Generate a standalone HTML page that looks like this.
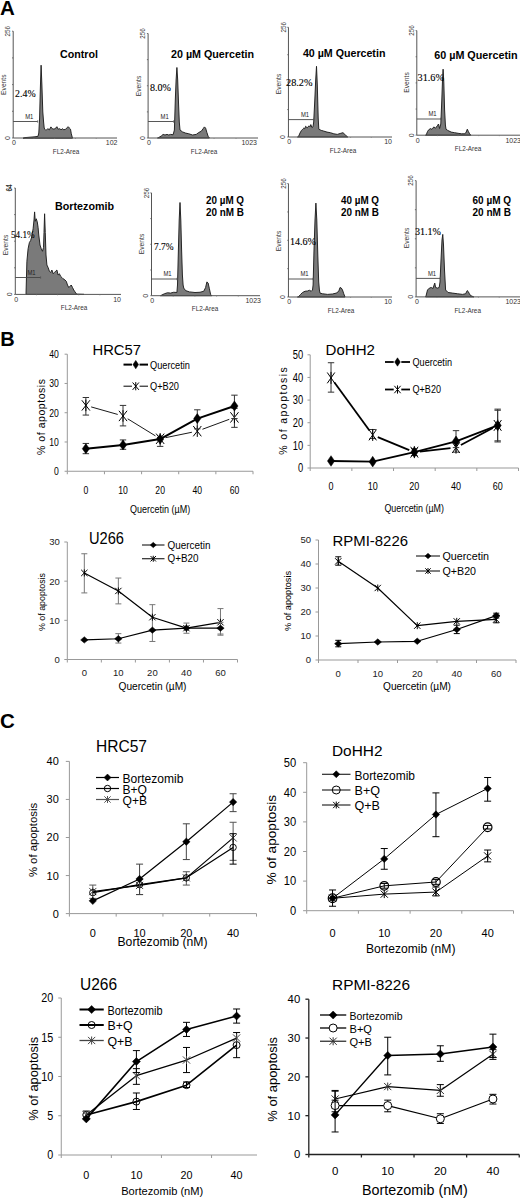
<!DOCTYPE html><html><head><meta charset="utf-8"><style>html,body{margin:0;padding:0;background:#fff;width:520px;height:1200px;overflow:hidden}svg{display:block}</style></head><body>
<svg width="520" height="1200" viewBox="0 0 520 1200">
<rect width="520" height="1200" fill="#fff"/>
<text x="0" y="14.7" font-size="20.5" text-anchor="start" font-weight="bold" fill="#000" font-family='"Liberation Sans", sans-serif' >A</text>
<text x="0.3" y="345.6" font-size="20" text-anchor="start" font-weight="bold" fill="#000" font-family='"Liberation Sans", sans-serif' >B</text>
<text x="0" y="727.6" font-size="20.5" text-anchor="start" font-weight="bold" fill="#000" font-family='"Liberation Sans", sans-serif' >C</text>
<polygon points="23,138.2 25,137.6 30,137.2 35,136.8 38,136.3 38.8,133 39.6,118 40.3,90 41.1,65.2 41.9,85 42.8,112 43.6,122 44.2,128 44.8,129.2 46,130.4 47.7,128.7 49.4,129.8 50.9,126.9 52.3,128.7 54,129.2 55.8,128.1 56.9,126.7 58.1,129.2 59.8,128.7 61,129.8 62.7,128.7 63.8,129.8 65.6,129.2 67.3,127.5 68.2,126.7 69.4,128.1 70.5,129.2 71.3,133.8 72.5,138.2" fill="#7a7a7a" stroke="#1e1e1e" stroke-width="0.95" stroke-linejoin="round"/>
<line x1="13.2" y1="31.2" x2="13.2" y2="138" stroke="#555" stroke-width="1" />
<line x1="13.2" y1="138" x2="117" y2="138" stroke="#555" stroke-width="1" />
<line x1="12.0" y1="138.0" x2="13.2" y2="138.0" stroke="#555" stroke-width="0.8" />
<line x1="12.0" y1="111.3" x2="13.2" y2="111.3" stroke="#555" stroke-width="0.8" />
<line x1="12.0" y1="84.6" x2="13.2" y2="84.6" stroke="#555" stroke-width="0.8" />
<line x1="12.0" y1="57.900000000000006" x2="13.2" y2="57.900000000000006" stroke="#555" stroke-width="0.8" />
<line x1="12.0" y1="31.200000000000003" x2="13.2" y2="31.200000000000003" stroke="#555" stroke-width="0.8" />
<line x1="33.959999999999994" y1="138" x2="33.959999999999994" y2="139.0" stroke="#777" stroke-width="0.6" />
<line x1="54.72" y1="138" x2="54.72" y2="139.0" stroke="#777" stroke-width="0.6" />
<line x1="75.47999999999999" y1="138" x2="75.47999999999999" y2="139.0" stroke="#777" stroke-width="0.6" />
<line x1="96.24" y1="138" x2="96.24" y2="139.0" stroke="#777" stroke-width="0.6" />
<text x="10.399999999999999" y="31.2" font-size="7" text-anchor="middle" font-weight="normal" fill="#333" font-family='"Liberation Sans", sans-serif' textLength="10.5" lengthAdjust="spacingAndGlyphs" transform="rotate(-90 10.399999999999999 31.2)" >256</text>
<text x="10.0" y="138" font-size="7" text-anchor="middle" font-weight="normal" fill="#333" font-family='"Liberation Sans", sans-serif' transform="rotate(-90 10.0 138)" >0</text>
<text x="5.6" y="84.7" font-size="6.7" text-anchor="middle" font-weight="normal" fill="#333" font-family='"Liberation Sans", sans-serif' textLength="20.5" lengthAdjust="spacingAndGlyphs" transform="rotate(-90 5.6 84.7)" >Events</text>
<text x="14.0" y="145.3" font-size="7" text-anchor="middle" font-weight="normal" fill="#333" font-family='"Liberation Sans", sans-serif' >0</text>
<text x="117.5" y="145.3" font-size="7" text-anchor="end" font-weight="normal" fill="#333" font-family='"Liberation Sans", sans-serif' >102</text>
<text x="66" y="153.75" font-size="7" text-anchor="middle" font-weight="normal" fill="#333" font-family='"Liberation Sans", sans-serif' textLength="26.5" lengthAdjust="spacingAndGlyphs" >FL2-Area</text>
<line x1="13.2" y1="121.5" x2="37.7" y2="121.5" stroke="#444" stroke-width="0.9" />
<line x1="37.7" y1="120.3" x2="37.7" y2="122.7" stroke="#555" stroke-width="0.8" />
<text x="29.3" y="118.9" font-size="7" text-anchor="middle" font-weight="normal" fill="#222" font-family='"Liberation Sans", sans-serif' textLength="8.2" lengthAdjust="spacingAndGlyphs" >M1</text>
<text x="60" y="58" font-size="10.5" text-anchor="start" font-weight="bold" fill="#000" font-family='"Liberation Sans", sans-serif' textLength="38" lengthAdjust="spacingAndGlyphs" >Control</text>
<text x="15.1" y="97.3" font-size="10" text-anchor="start" font-weight="normal" fill="#000" font-family='"Liberation Serif", serif' textLength="20.5" lengthAdjust="spacingAndGlyphs" stroke="#000" stroke-width="0.12">2.4%</text>
<polygon points="157.5,138 158.75,137.5 161.25,136 163.1,134.4 165,135 167,134.4 168.8,135 170.6,134.4 173.1,134.75 174.4,130 175.3,100 176.1,80 176.9,67.5 177.7,80 178.6,105 179.3,122 180,130 182.5,131.9 185.6,133.1 188.75,133.75 192.5,135 196.25,134.4 198.75,132.5 201.25,131.25 203.1,128.75 204.4,126.9 205.6,128.1 206.9,132.5 208.1,136.25 209.4,138" fill="#7a7a7a" stroke="#1e1e1e" stroke-width="0.95" stroke-linejoin="round"/>
<line x1="148.1" y1="33.5" x2="148.1" y2="138" stroke="#555" stroke-width="1" />
<line x1="148.1" y1="138" x2="258" y2="138" stroke="#555" stroke-width="1" />
<line x1="146.9" y1="138.0" x2="148.1" y2="138.0" stroke="#555" stroke-width="0.8" />
<line x1="146.9" y1="111.875" x2="148.1" y2="111.875" stroke="#555" stroke-width="0.8" />
<line x1="146.9" y1="85.75" x2="148.1" y2="85.75" stroke="#555" stroke-width="0.8" />
<line x1="146.9" y1="59.625" x2="148.1" y2="59.625" stroke="#555" stroke-width="0.8" />
<line x1="146.9" y1="33.5" x2="148.1" y2="33.5" stroke="#555" stroke-width="0.8" />
<line x1="170.07999999999998" y1="138" x2="170.07999999999998" y2="139.0" stroke="#777" stroke-width="0.6" />
<line x1="192.06" y1="138" x2="192.06" y2="139.0" stroke="#777" stroke-width="0.6" />
<line x1="214.04000000000002" y1="138" x2="214.04000000000002" y2="139.0" stroke="#777" stroke-width="0.6" />
<line x1="236.01999999999998" y1="138" x2="236.01999999999998" y2="139.0" stroke="#777" stroke-width="0.6" />
<text x="145.29999999999998" y="33.5" font-size="7" text-anchor="middle" font-weight="normal" fill="#333" font-family='"Liberation Sans", sans-serif' textLength="10.5" lengthAdjust="spacingAndGlyphs" transform="rotate(-90 145.29999999999998 33.5)" >256</text>
<text x="144.9" y="138" font-size="7" text-anchor="middle" font-weight="normal" fill="#333" font-family='"Liberation Sans", sans-serif' transform="rotate(-90 144.9 138)" >0</text>
<text x="140.5" y="86" font-size="6.7" text-anchor="middle" font-weight="normal" fill="#333" font-family='"Liberation Sans", sans-serif' textLength="20.5" lengthAdjust="spacingAndGlyphs" transform="rotate(-90 140.5 86)" >Events</text>
<text x="148.9" y="145.3" font-size="7" text-anchor="middle" font-weight="normal" fill="#333" font-family='"Liberation Sans", sans-serif' >0</text>
<text x="257" y="145.3" font-size="7" text-anchor="end" font-weight="normal" fill="#333" font-family='"Liberation Sans", sans-serif' >1023</text>
<text x="204" y="153.75" font-size="7" text-anchor="middle" font-weight="normal" fill="#333" font-family='"Liberation Sans", sans-serif' textLength="26.5" lengthAdjust="spacingAndGlyphs" >FL2-Area</text>
<line x1="148.1" y1="121.5" x2="173.6" y2="121.5" stroke="#444" stroke-width="0.9" />
<line x1="173.6" y1="120.3" x2="173.6" y2="122.7" stroke="#555" stroke-width="0.8" />
<text x="164.7" y="118.9" font-size="7" text-anchor="middle" font-weight="normal" fill="#222" font-family='"Liberation Sans", sans-serif' textLength="8.2" lengthAdjust="spacingAndGlyphs" >M1</text>
<text x="171" y="57.5" font-size="10.5" text-anchor="start" font-weight="bold" fill="#000" font-family='"Liberation Sans", sans-serif' textLength="83" lengthAdjust="spacingAndGlyphs" >20 µM Quercetin</text>
<text x="150" y="91" font-size="10" text-anchor="start" font-weight="normal" fill="#000" font-family='"Liberation Serif", serif' textLength="21" lengthAdjust="spacingAndGlyphs" stroke="#000" stroke-width="0.12">8.0%</text>
<polygon points="297.5,137 298.7,136.2 300,133 301.5,130.4 302.7,129.2 303.8,128.1 304.7,128.8 305.6,126.3 307.2,127.8 309,125.8 310,126.8 310.8,124.6 311.9,127.5 313,126.8 313.7,122 314.8,100 315.7,80 316.5,66.3 317.3,85 318.2,118 318.8,129.2 321.2,130.4 323.5,131 327,132.1 330.4,132.7 333.8,133.8 337.3,134.4 340.8,133.3 343,132.7 345.4,135 347.7,137" fill="#7a7a7a" stroke="#1e1e1e" stroke-width="0.95" stroke-linejoin="round"/>
<line x1="288.45" y1="27.3" x2="288.45" y2="137" stroke="#555" stroke-width="1" />
<line x1="288.45" y1="137" x2="392" y2="137" stroke="#555" stroke-width="1" />
<line x1="287.25" y1="137.0" x2="288.45" y2="137.0" stroke="#555" stroke-width="0.8" />
<line x1="287.25" y1="109.575" x2="288.45" y2="109.575" stroke="#555" stroke-width="0.8" />
<line x1="287.25" y1="82.15" x2="288.45" y2="82.15" stroke="#555" stroke-width="0.8" />
<line x1="287.25" y1="54.724999999999994" x2="288.45" y2="54.724999999999994" stroke="#555" stroke-width="0.8" />
<line x1="287.25" y1="27.299999999999997" x2="288.45" y2="27.299999999999997" stroke="#555" stroke-width="0.8" />
<line x1="309.15999999999997" y1="137" x2="309.15999999999997" y2="138.0" stroke="#777" stroke-width="0.6" />
<line x1="329.87" y1="137" x2="329.87" y2="138.0" stroke="#777" stroke-width="0.6" />
<line x1="350.58" y1="137" x2="350.58" y2="138.0" stroke="#777" stroke-width="0.6" />
<line x1="371.28999999999996" y1="137" x2="371.28999999999996" y2="138.0" stroke="#777" stroke-width="0.6" />
<text x="285.65" y="27.3" font-size="7" text-anchor="middle" font-weight="normal" fill="#333" font-family='"Liberation Sans", sans-serif' textLength="10.5" lengthAdjust="spacingAndGlyphs" transform="rotate(-90 285.65 27.3)" >256</text>
<text x="285.25" y="137" font-size="7" text-anchor="middle" font-weight="normal" fill="#333" font-family='"Liberation Sans", sans-serif' transform="rotate(-90 285.25 137)" >0</text>
<text x="280.84999999999997" y="84" font-size="6.7" text-anchor="middle" font-weight="normal" fill="#333" font-family='"Liberation Sans", sans-serif' textLength="20.5" lengthAdjust="spacingAndGlyphs" transform="rotate(-90 280.84999999999997 84)" >Events</text>
<text x="289.25" y="144.3" font-size="7" text-anchor="middle" font-weight="normal" fill="#333" font-family='"Liberation Sans", sans-serif' >0</text>
<text x="392" y="144.3" font-size="7" text-anchor="end" font-weight="normal" fill="#333" font-family='"Liberation Sans", sans-serif' >10</text>
<text x="343" y="152.75" font-size="7" text-anchor="middle" font-weight="normal" fill="#333" font-family='"Liberation Sans", sans-serif' textLength="26.5" lengthAdjust="spacingAndGlyphs" >FL2-Area</text>
<line x1="288.45" y1="119.6" x2="313.8" y2="119.6" stroke="#444" stroke-width="0.9" />
<line x1="313.8" y1="118.39999999999999" x2="313.8" y2="120.8" stroke="#555" stroke-width="0.8" />
<text x="305" y="117.0" font-size="7" text-anchor="middle" font-weight="normal" fill="#222" font-family='"Liberation Sans", sans-serif' textLength="8.2" lengthAdjust="spacingAndGlyphs" >M1</text>
<text x="302.9" y="56.5" font-size="10.5" text-anchor="start" font-weight="bold" fill="#000" font-family='"Liberation Sans", sans-serif' textLength="82.5" lengthAdjust="spacingAndGlyphs" >40 µM Quercetin</text>
<text x="286" y="86" font-size="10" text-anchor="start" font-weight="normal" fill="#000" font-family='"Liberation Serif", serif' textLength="26.5" lengthAdjust="spacingAndGlyphs" stroke="#000" stroke-width="0.12">28.2%</text>
<polygon points="425.5,135.2 426.3,134.8 427.5,131.5 428.7,129.8 430.4,128.6 432,129.4 433.8,126.9 435.5,128.2 437.3,125.8 438.5,124 439.6,128.5 440.8,124 441.8,100 442.5,80 443.1,69.2 443.8,82 444.6,110 445.4,125 446,129.2 447.7,130.4 451.2,132.1 454.6,132.7 458.1,133.3 461.5,133.8 464.8,133.8 466.2,132.1 467.3,129.2 468.4,131.5 469.6,133.8 470.8,135.2" fill="#7a7a7a" stroke="#1e1e1e" stroke-width="0.95" stroke-linejoin="round"/>
<line x1="416.8" y1="30.6" x2="416.8" y2="135.2" stroke="#555" stroke-width="1" />
<line x1="416.8" y1="135.2" x2="520" y2="135.2" stroke="#555" stroke-width="1" />
<line x1="415.6" y1="135.2" x2="416.8" y2="135.2" stroke="#555" stroke-width="0.8" />
<line x1="415.6" y1="109.04999999999998" x2="416.8" y2="109.04999999999998" stroke="#555" stroke-width="0.8" />
<line x1="415.6" y1="82.89999999999999" x2="416.8" y2="82.89999999999999" stroke="#555" stroke-width="0.8" />
<line x1="415.6" y1="56.75" x2="416.8" y2="56.75" stroke="#555" stroke-width="0.8" />
<line x1="415.6" y1="30.599999999999994" x2="416.8" y2="30.599999999999994" stroke="#555" stroke-width="0.8" />
<line x1="437.44" y1="135.2" x2="437.44" y2="136.2" stroke="#777" stroke-width="0.6" />
<line x1="458.08" y1="135.2" x2="458.08" y2="136.2" stroke="#777" stroke-width="0.6" />
<line x1="478.72" y1="135.2" x2="478.72" y2="136.2" stroke="#777" stroke-width="0.6" />
<line x1="499.36" y1="135.2" x2="499.36" y2="136.2" stroke="#777" stroke-width="0.6" />
<text x="414.0" y="30.6" font-size="7" text-anchor="middle" font-weight="normal" fill="#333" font-family='"Liberation Sans", sans-serif' textLength="10.5" lengthAdjust="spacingAndGlyphs" transform="rotate(-90 414.0 30.6)" >256</text>
<text x="413.6" y="135.2" font-size="7" text-anchor="middle" font-weight="normal" fill="#333" font-family='"Liberation Sans", sans-serif' transform="rotate(-90 413.6 135.2)" >0</text>
<text x="409.2" y="82.5" font-size="6.7" text-anchor="middle" font-weight="normal" fill="#333" font-family='"Liberation Sans", sans-serif' textLength="20.5" lengthAdjust="spacingAndGlyphs" transform="rotate(-90 409.2 82.5)" >Events</text>
<text x="417.6" y="142.5" font-size="7" text-anchor="middle" font-weight="normal" fill="#333" font-family='"Liberation Sans", sans-serif' >0</text>
<text x="521" y="142.5" font-size="7" text-anchor="end" font-weight="normal" fill="#333" font-family='"Liberation Sans", sans-serif' >1023</text>
<text x="468" y="150.95" font-size="7" text-anchor="middle" font-weight="normal" fill="#333" font-family='"Liberation Sans", sans-serif' textLength="26.5" lengthAdjust="spacingAndGlyphs" >FL2-Area</text>
<line x1="416.8" y1="119" x2="440.6" y2="119" stroke="#444" stroke-width="0.9" />
<line x1="440.6" y1="117.8" x2="440.6" y2="120.2" stroke="#555" stroke-width="0.8" />
<text x="432.5" y="116.4" font-size="7" text-anchor="middle" font-weight="normal" fill="#222" font-family='"Liberation Sans", sans-serif' textLength="8.2" lengthAdjust="spacingAndGlyphs" >M1</text>
<text x="434.2" y="59.4" font-size="10.5" text-anchor="start" font-weight="bold" fill="#000" font-family='"Liberation Sans", sans-serif' textLength="83.5" lengthAdjust="spacingAndGlyphs" >60 µM Quercetin</text>
<text x="417.5" y="81" font-size="10" text-anchor="start" font-weight="normal" fill="#000" font-family='"Liberation Serif", serif' textLength="26.5" lengthAdjust="spacingAndGlyphs" stroke="#000" stroke-width="0.12">31.6%</text>
<polygon points="26,294.4 26.9,261.25 28.1,248.75 29.4,242.5 30.6,240.6 31.9,236.25 33.1,228.75 34,220 34.6,211.9 35.25,221.25 36.25,218.75 37.25,221.9 38.1,227.5 38.75,235 39.4,240 40,245 41.25,248.75 42.5,251.25 43.5,247.5 44,232.5 44.6,213.75 45.25,232.5 46,255 46.9,265 48.1,267.5 49.4,271.25 50.6,272.5 51.9,270 53.1,273.75 54.4,272.5 55.6,271.25 56.9,270 58.1,275 59.4,273.75 60.6,276.25 61.9,277.5 63.1,278.75 65,280 66.25,281.25 67.5,285 68.75,287.5 70,286.25 71.25,285 72.5,287.5 73.75,290 75,291.9 76.25,293.75 77.5,294.2 84,294.4" fill="#7a7a7a" stroke="#1e1e1e" stroke-width="0.95" stroke-linejoin="round"/>
<line x1="15.3" y1="188" x2="15.3" y2="294.4" stroke="#555" stroke-width="1" />
<line x1="15.3" y1="294.4" x2="121" y2="294.4" stroke="#555" stroke-width="1" />
<line x1="14.100000000000001" y1="294.4" x2="15.3" y2="294.4" stroke="#555" stroke-width="0.8" />
<line x1="14.100000000000001" y1="267.79999999999995" x2="15.3" y2="267.79999999999995" stroke="#555" stroke-width="0.8" />
<line x1="14.100000000000001" y1="241.2" x2="15.3" y2="241.2" stroke="#555" stroke-width="0.8" />
<line x1="14.100000000000001" y1="214.6" x2="15.3" y2="214.6" stroke="#555" stroke-width="0.8" />
<line x1="14.100000000000001" y1="188.0" x2="15.3" y2="188.0" stroke="#555" stroke-width="0.8" />
<line x1="36.44" y1="294.4" x2="36.44" y2="295.4" stroke="#777" stroke-width="0.6" />
<line x1="57.58" y1="294.4" x2="57.58" y2="295.4" stroke="#777" stroke-width="0.6" />
<line x1="78.72" y1="294.4" x2="78.72" y2="295.4" stroke="#777" stroke-width="0.6" />
<line x1="99.86" y1="294.4" x2="99.86" y2="295.4" stroke="#777" stroke-width="0.6" />
<text x="12.2" y="188" font-size="8.5" text-anchor="middle" font-weight="bold" fill="#333" font-family='"Liberation Sans", sans-serif' textLength="7.2" lengthAdjust="spacingAndGlyphs" transform="rotate(-90 12.2 188)" >64</text>
<text x="12.100000000000001" y="294.4" font-size="7" text-anchor="middle" font-weight="normal" fill="#333" font-family='"Liberation Sans", sans-serif' transform="rotate(-90 12.100000000000001 294.4)" >0</text>
<text x="7.700000000000001" y="245" font-size="6.7" text-anchor="middle" font-weight="normal" fill="#333" font-family='"Liberation Sans", sans-serif' textLength="20.5" lengthAdjust="spacingAndGlyphs" transform="rotate(-90 7.700000000000001 245)" >Events</text>
<text x="16.1" y="301.7" font-size="7" text-anchor="middle" font-weight="normal" fill="#333" font-family='"Liberation Sans", sans-serif' >0</text>
<text x="121" y="301.7" font-size="7" text-anchor="end" font-weight="normal" fill="#333" font-family='"Liberation Sans", sans-serif' >10</text>
<text x="74" y="310.15" font-size="7" text-anchor="middle" font-weight="normal" fill="#333" font-family='"Liberation Sans", sans-serif' textLength="26.5" lengthAdjust="spacingAndGlyphs" >FL2-Area</text>
<line x1="15.3" y1="277.5" x2="40.6" y2="277.5" stroke="#444" stroke-width="0.9" />
<line x1="40.6" y1="276.3" x2="40.6" y2="278.7" stroke="#555" stroke-width="0.8" />
<text x="31.5" y="274.9" font-size="7" text-anchor="middle" font-weight="normal" fill="#222" font-family='"Liberation Sans", sans-serif' textLength="8.2" lengthAdjust="spacingAndGlyphs" >M1</text>
<text x="55" y="210" font-size="10.5" text-anchor="start" font-weight="bold" fill="#000" font-family='"Liberation Sans", sans-serif' textLength="59" lengthAdjust="spacingAndGlyphs" >Bortezomib</text>
<text x="11" y="237.7" font-size="10" text-anchor="start" font-weight="normal" fill="#000" font-family='"Liberation Serif", serif' textLength="23.6" lengthAdjust="spacingAndGlyphs" stroke="#000" stroke-width="0.12">54.1%</text>
<polygon points="160.5,295.7 161.9,295 164.4,293.75 167.5,292.75 170.6,293.1 173.75,292.25 176.9,292.5 177.5,285 178.4,250 179.2,220 180,202.5 180.8,220 181.6,250 182.4,275 183.1,285 183.75,288.1 185.6,290.6 189.4,291.9 195,292.5 200,292.25 203.75,291.25 205.6,287.5 206.9,281.9 208.1,283 209.4,288.75 210.6,294.4 211.9,295.7" fill="#7a7a7a" stroke="#1e1e1e" stroke-width="0.95" stroke-linejoin="round"/>
<line x1="151.5" y1="192.9" x2="151.5" y2="295.7" stroke="#555" stroke-width="1" />
<line x1="151.5" y1="295.7" x2="260" y2="295.7" stroke="#555" stroke-width="1" />
<line x1="150.3" y1="295.7" x2="151.5" y2="295.7" stroke="#555" stroke-width="0.8" />
<line x1="150.3" y1="270.0" x2="151.5" y2="270.0" stroke="#555" stroke-width="0.8" />
<line x1="150.3" y1="244.3" x2="151.5" y2="244.3" stroke="#555" stroke-width="0.8" />
<line x1="150.3" y1="218.6" x2="151.5" y2="218.6" stroke="#555" stroke-width="0.8" />
<line x1="150.3" y1="192.9" x2="151.5" y2="192.9" stroke="#555" stroke-width="0.8" />
<line x1="173.2" y1="295.7" x2="173.2" y2="296.7" stroke="#777" stroke-width="0.6" />
<line x1="194.9" y1="295.7" x2="194.9" y2="296.7" stroke="#777" stroke-width="0.6" />
<line x1="216.6" y1="295.7" x2="216.6" y2="296.7" stroke="#777" stroke-width="0.6" />
<line x1="238.3" y1="295.7" x2="238.3" y2="296.7" stroke="#777" stroke-width="0.6" />
<text x="148.7" y="192.9" font-size="7" text-anchor="middle" font-weight="normal" fill="#333" font-family='"Liberation Sans", sans-serif' textLength="10.5" lengthAdjust="spacingAndGlyphs" transform="rotate(-90 148.7 192.9)" >256</text>
<text x="148.3" y="295.7" font-size="7" text-anchor="middle" font-weight="normal" fill="#333" font-family='"Liberation Sans", sans-serif' transform="rotate(-90 148.3 295.7)" >0</text>
<text x="143.9" y="244" font-size="6.7" text-anchor="middle" font-weight="normal" fill="#333" font-family='"Liberation Sans", sans-serif' textLength="20.5" lengthAdjust="spacingAndGlyphs" transform="rotate(-90 143.9 244)" >Events</text>
<text x="152.3" y="303.0" font-size="7" text-anchor="middle" font-weight="normal" fill="#333" font-family='"Liberation Sans", sans-serif' >0</text>
<text x="261" y="303.0" font-size="7" text-anchor="end" font-weight="normal" fill="#333" font-family='"Liberation Sans", sans-serif' >1023</text>
<text x="205" y="311.45" font-size="7" text-anchor="middle" font-weight="normal" fill="#333" font-family='"Liberation Sans", sans-serif' textLength="26.5" lengthAdjust="spacingAndGlyphs" >FL2-Area</text>
<line x1="151.5" y1="279" x2="177" y2="279" stroke="#444" stroke-width="0.9" />
<line x1="177" y1="277.8" x2="177" y2="280.2" stroke="#555" stroke-width="0.8" />
<text x="167.5" y="276.4" font-size="7" text-anchor="middle" font-weight="normal" fill="#222" font-family='"Liberation Sans", sans-serif' textLength="8.2" lengthAdjust="spacingAndGlyphs" >M1</text>
<text x="206" y="204" font-size="10.5" text-anchor="start" font-weight="bold" fill="#000" font-family='"Liberation Sans", sans-serif' textLength="38" lengthAdjust="spacingAndGlyphs" >20 µM Q</text>
<text x="206" y="216" font-size="10.5" text-anchor="start" font-weight="bold" fill="#000" font-family='"Liberation Sans", sans-serif' textLength="38" lengthAdjust="spacingAndGlyphs" >20 nM B</text>
<text x="154" y="250" font-size="10" text-anchor="start" font-weight="normal" fill="#000" font-family='"Liberation Serif", serif' textLength="19.5" lengthAdjust="spacingAndGlyphs" stroke="#000" stroke-width="0.12">7.7%</text>
<polygon points="297.5,297 298.75,296.5 300.6,294.4 302.5,292.5 305,291.25 307.5,291 309.4,290.25 311.25,291.25 312.5,290 313.1,285 314,250 315,220 315.9,203.1 316.8,220 317.8,255 318.7,282 319.4,290 320,293.1 322.5,293.75 327.5,294.4 332.5,294 336.25,293.1 338.75,291.25 340,287.5 341.25,288 342.5,290 343.75,293.75 345,297" fill="#7a7a7a" stroke="#1e1e1e" stroke-width="0.95" stroke-linejoin="round"/>
<line x1="288.45" y1="183.6" x2="288.45" y2="297" stroke="#555" stroke-width="1" />
<line x1="288.45" y1="297" x2="392" y2="297" stroke="#555" stroke-width="1" />
<line x1="287.25" y1="297.0" x2="288.45" y2="297.0" stroke="#555" stroke-width="0.8" />
<line x1="287.25" y1="268.65" x2="288.45" y2="268.65" stroke="#555" stroke-width="0.8" />
<line x1="287.25" y1="240.3" x2="288.45" y2="240.3" stroke="#555" stroke-width="0.8" />
<line x1="287.25" y1="211.95" x2="288.45" y2="211.95" stroke="#555" stroke-width="0.8" />
<line x1="287.25" y1="183.6" x2="288.45" y2="183.6" stroke="#555" stroke-width="0.8" />
<line x1="309.15999999999997" y1="297" x2="309.15999999999997" y2="298.0" stroke="#777" stroke-width="0.6" />
<line x1="329.87" y1="297" x2="329.87" y2="298.0" stroke="#777" stroke-width="0.6" />
<line x1="350.58" y1="297" x2="350.58" y2="298.0" stroke="#777" stroke-width="0.6" />
<line x1="371.28999999999996" y1="297" x2="371.28999999999996" y2="298.0" stroke="#777" stroke-width="0.6" />
<text x="285.65" y="183.6" font-size="7" text-anchor="middle" font-weight="normal" fill="#333" font-family='"Liberation Sans", sans-serif' textLength="10.5" lengthAdjust="spacingAndGlyphs" transform="rotate(-90 285.65 183.6)" >256</text>
<text x="285.25" y="297" font-size="7" text-anchor="middle" font-weight="normal" fill="#333" font-family='"Liberation Sans", sans-serif' transform="rotate(-90 285.25 297)" >0</text>
<text x="280.84999999999997" y="241" font-size="6.7" text-anchor="middle" font-weight="normal" fill="#333" font-family='"Liberation Sans", sans-serif' textLength="20.5" lengthAdjust="spacingAndGlyphs" transform="rotate(-90 280.84999999999997 241)" >Events</text>
<text x="289.25" y="304.3" font-size="7" text-anchor="middle" font-weight="normal" fill="#333" font-family='"Liberation Sans", sans-serif' >0</text>
<text x="392" y="304.3" font-size="7" text-anchor="end" font-weight="normal" fill="#333" font-family='"Liberation Sans", sans-serif' >10</text>
<text x="341" y="312.75" font-size="7" text-anchor="middle" font-weight="normal" fill="#333" font-family='"Liberation Sans", sans-serif' textLength="26.5" lengthAdjust="spacingAndGlyphs" >FL2-Area</text>
<line x1="288.45" y1="279" x2="313" y2="279" stroke="#444" stroke-width="0.9" />
<line x1="313" y1="277.8" x2="313" y2="280.2" stroke="#555" stroke-width="0.8" />
<text x="304.5" y="276.4" font-size="7" text-anchor="middle" font-weight="normal" fill="#222" font-family='"Liberation Sans", sans-serif' textLength="8.2" lengthAdjust="spacingAndGlyphs" >M1</text>
<text x="341" y="204" font-size="10.5" text-anchor="start" font-weight="bold" fill="#000" font-family='"Liberation Sans", sans-serif' textLength="38" lengthAdjust="spacingAndGlyphs" >40 µM Q</text>
<text x="341" y="216" font-size="10.5" text-anchor="start" font-weight="bold" fill="#000" font-family='"Liberation Sans", sans-serif' textLength="38" lengthAdjust="spacingAndGlyphs" >20 nM B</text>
<text x="290" y="245" font-size="10" text-anchor="start" font-weight="normal" fill="#000" font-family='"Liberation Serif", serif' textLength="26" lengthAdjust="spacingAndGlyphs" stroke="#000" stroke-width="0.12">14.6%</text>
<polygon points="425.5,296.9 426,296 427.5,290 429.4,288.1 431.25,287.5 433,288.5 434.1,285 434.75,283.1 435.6,287.5 437.5,288.1 439.2,287.5 440,282 441,260 442,240 442.75,234.4 443.5,245 444.5,270 445.6,290 448.1,292.5 452.5,293.1 457.5,293.75 462.5,294.4 465.6,293.75 467.25,290.6 468.2,291.5 469.4,293.75 470.6,295.6 473.75,296.9" fill="#7a7a7a" stroke="#1e1e1e" stroke-width="0.95" stroke-linejoin="round"/>
<line x1="416.1" y1="180.6" x2="416.1" y2="296.9" stroke="#555" stroke-width="1" />
<line x1="416.1" y1="296.9" x2="520" y2="296.9" stroke="#555" stroke-width="1" />
<line x1="414.90000000000003" y1="296.9" x2="416.1" y2="296.9" stroke="#555" stroke-width="0.8" />
<line x1="414.90000000000003" y1="267.825" x2="416.1" y2="267.825" stroke="#555" stroke-width="0.8" />
<line x1="414.90000000000003" y1="238.75" x2="416.1" y2="238.75" stroke="#555" stroke-width="0.8" />
<line x1="414.90000000000003" y1="209.67499999999998" x2="416.1" y2="209.67499999999998" stroke="#555" stroke-width="0.8" />
<line x1="414.90000000000003" y1="180.6" x2="416.1" y2="180.6" stroke="#555" stroke-width="0.8" />
<line x1="436.88" y1="296.9" x2="436.88" y2="297.9" stroke="#777" stroke-width="0.6" />
<line x1="457.66" y1="296.9" x2="457.66" y2="297.9" stroke="#777" stroke-width="0.6" />
<line x1="478.44" y1="296.9" x2="478.44" y2="297.9" stroke="#777" stroke-width="0.6" />
<line x1="499.22" y1="296.9" x2="499.22" y2="297.9" stroke="#777" stroke-width="0.6" />
<text x="413.3" y="180.6" font-size="7" text-anchor="middle" font-weight="normal" fill="#333" font-family='"Liberation Sans", sans-serif' textLength="10.5" lengthAdjust="spacingAndGlyphs" transform="rotate(-90 413.3 180.6)" >256</text>
<text x="412.90000000000003" y="296.9" font-size="7" text-anchor="middle" font-weight="normal" fill="#333" font-family='"Liberation Sans", sans-serif' transform="rotate(-90 412.90000000000003 296.9)" >0</text>
<text x="408.5" y="238" font-size="6.7" text-anchor="middle" font-weight="normal" fill="#333" font-family='"Liberation Sans", sans-serif' textLength="20.5" lengthAdjust="spacingAndGlyphs" transform="rotate(-90 408.5 238)" >Events</text>
<text x="416.90000000000003" y="304.2" font-size="7" text-anchor="middle" font-weight="normal" fill="#333" font-family='"Liberation Sans", sans-serif' >0</text>
<text x="521" y="304.2" font-size="7" text-anchor="end" font-weight="normal" fill="#333" font-family='"Liberation Sans", sans-serif' >1023</text>
<text x="467.7" y="312.65" font-size="7" text-anchor="middle" font-weight="normal" fill="#333" font-family='"Liberation Sans", sans-serif' textLength="26.5" lengthAdjust="spacingAndGlyphs" >FL2-Area</text>
<line x1="416.1" y1="278.4" x2="440.3" y2="278.4" stroke="#444" stroke-width="0.9" />
<line x1="440.3" y1="277.2" x2="440.3" y2="279.59999999999997" stroke="#555" stroke-width="0.8" />
<text x="432" y="275.79999999999995" font-size="7" text-anchor="middle" font-weight="normal" fill="#222" font-family='"Liberation Sans", sans-serif' textLength="8.2" lengthAdjust="spacingAndGlyphs" >M1</text>
<text x="472.5" y="204" font-size="10.5" text-anchor="start" font-weight="bold" fill="#000" font-family='"Liberation Sans", sans-serif' textLength="38.5" lengthAdjust="spacingAndGlyphs" >60 µM Q</text>
<text x="472.5" y="216" font-size="10.5" text-anchor="start" font-weight="bold" fill="#000" font-family='"Liberation Sans", sans-serif' textLength="38.5" lengthAdjust="spacingAndGlyphs" >20 nM B</text>
<text x="415" y="235" font-size="10" text-anchor="start" font-weight="normal" fill="#000" font-family='"Liberation Serif", serif' textLength="26" lengthAdjust="spacingAndGlyphs" stroke="#000" stroke-width="0.12">31.1%</text>
<line x1="67.3" y1="354.2" x2="67.3" y2="471.25" stroke="#999" stroke-width="1" />
<line x1="67.3" y1="471.25" x2="253" y2="471.25" stroke="#999" stroke-width="1" />
<line x1="64.6" y1="471.25" x2="67.3" y2="471.25" stroke="#999" stroke-width="1" />
<text x="58.8" y="475.21" font-size="11" text-anchor="end" font-weight="normal" fill="#000" font-family='"Liberation Sans", sans-serif' textLength="4.8" lengthAdjust="spacingAndGlyphs" >0</text>
<line x1="64.6" y1="441.9875" x2="67.3" y2="441.9875" stroke="#999" stroke-width="1" />
<text x="58.8" y="445.9475" font-size="11" text-anchor="end" font-weight="normal" fill="#000" font-family='"Liberation Sans", sans-serif' textLength="9.6" lengthAdjust="spacingAndGlyphs" >10</text>
<line x1="64.6" y1="412.725" x2="67.3" y2="412.725" stroke="#999" stroke-width="1" />
<text x="58.8" y="416.685" font-size="11" text-anchor="end" font-weight="normal" fill="#000" font-family='"Liberation Sans", sans-serif' textLength="9.6" lengthAdjust="spacingAndGlyphs" >20</text>
<line x1="64.6" y1="383.4625" x2="67.3" y2="383.4625" stroke="#999" stroke-width="1" />
<text x="58.8" y="387.42249999999996" font-size="11" text-anchor="end" font-weight="normal" fill="#000" font-family='"Liberation Sans", sans-serif' textLength="9.6" lengthAdjust="spacingAndGlyphs" >30</text>
<line x1="64.6" y1="354.2" x2="67.3" y2="354.2" stroke="#999" stroke-width="1" />
<text x="58.8" y="358.15999999999997" font-size="11" text-anchor="end" font-weight="normal" fill="#000" font-family='"Liberation Sans", sans-serif' textLength="9.6" lengthAdjust="spacingAndGlyphs" >40</text>
<line x1="67.3" y1="471.25" x2="67.3" y2="474.25" stroke="#999" stroke-width="1" />
<line x1="104.44" y1="471.25" x2="104.44" y2="474.25" stroke="#999" stroke-width="1" />
<line x1="141.57999999999998" y1="471.25" x2="141.57999999999998" y2="474.25" stroke="#999" stroke-width="1" />
<line x1="178.72" y1="471.25" x2="178.72" y2="474.25" stroke="#999" stroke-width="1" />
<line x1="215.86" y1="471.25" x2="215.86" y2="474.25" stroke="#999" stroke-width="1" />
<line x1="253.0" y1="471.25" x2="253.0" y2="474.25" stroke="#999" stroke-width="1" />
<text x="85.87" y="493.5" font-size="11" text-anchor="middle" font-weight="normal" fill="#000" font-family='"Liberation Sans", sans-serif' textLength="4.8" lengthAdjust="spacingAndGlyphs" >0</text>
<text x="123.00999999999999" y="493.5" font-size="11" text-anchor="middle" font-weight="normal" fill="#000" font-family='"Liberation Sans", sans-serif' textLength="9.6" lengthAdjust="spacingAndGlyphs" >10</text>
<text x="160.14999999999998" y="493.5" font-size="11" text-anchor="middle" font-weight="normal" fill="#000" font-family='"Liberation Sans", sans-serif' textLength="9.6" lengthAdjust="spacingAndGlyphs" >20</text>
<text x="197.29000000000002" y="493.5" font-size="11" text-anchor="middle" font-weight="normal" fill="#000" font-family='"Liberation Sans", sans-serif' textLength="9.6" lengthAdjust="spacingAndGlyphs" >40</text>
<text x="234.43" y="493.5" font-size="11" text-anchor="middle" font-weight="normal" fill="#000" font-family='"Liberation Sans", sans-serif' textLength="9.6" lengthAdjust="spacingAndGlyphs" >60</text>
<text x="160.1" y="512.8" font-size="11.2" text-anchor="middle" font-weight="normal" fill="#000" font-family='"Liberation Sans", sans-serif' textLength="60.2" lengthAdjust="spacingAndGlyphs" >Quercetin (µM)</text>
<text x="44.5" y="417" font-size="10.5" text-anchor="middle" font-family='"Liberation Sans", sans-serif' textLength="76" lengthAdjust="spacing" transform="rotate(-90 44.5 417)">% of apoptosis</text>
<text x="92.5" y="355" font-size="15" text-anchor="start" font-weight="normal" fill="#000" font-family='"Liberation Sans", sans-serif' textLength="48.5" lengthAdjust="spacingAndGlyphs" >HRC57</text>
<line x1="85.87" y1="397.5085" x2="85.87" y2="415.066" stroke="#333" stroke-width="1" />
<line x1="82.67" y1="397.5085" x2="89.07000000000001" y2="397.5085" stroke="#333" stroke-width="1" />
<line x1="82.67" y1="415.066" x2="89.07000000000001" y2="415.066" stroke="#333" stroke-width="1" />
<line x1="123.00999999999999" y1="405.40937499999995" x2="123.00999999999999" y2="425.893125" stroke="#333" stroke-width="1" />
<line x1="119.80999999999999" y1="405.40937499999995" x2="126.21" y2="405.40937499999995" stroke="#333" stroke-width="1" />
<line x1="119.80999999999999" y1="425.893125" x2="126.21" y2="425.893125" stroke="#333" stroke-width="1" />
<line x1="160.14999999999998" y1="437.598125" x2="160.14999999999998" y2="446.376875" stroke="#333" stroke-width="1" />
<line x1="156.95" y1="437.598125" x2="163.34999999999997" y2="437.598125" stroke="#333" stroke-width="1" />
<line x1="156.95" y1="446.376875" x2="163.34999999999997" y2="446.376875" stroke="#333" stroke-width="1" />
<line x1="234.43" y1="408.335625" x2="234.43" y2="427.35625" stroke="#333" stroke-width="1" />
<line x1="231.23000000000002" y1="408.335625" x2="237.63" y2="408.335625" stroke="#333" stroke-width="1" />
<line x1="231.23000000000002" y1="427.35625" x2="237.63" y2="427.35625" stroke="#333" stroke-width="1" />
<line x1="91.16126706503076" y1="406.910205718809" x2="117.71873293496924" y2="414.44304428119096" stroke="#000" stroke-width="0.9" stroke-linecap="butt"/>
<line x1="127.69584508876791" y1="418.8236068979498" x2="155.46415491123204" y2="435.8888931020502" stroke="#000" stroke-width="0.9" stroke-linecap="butt"/>
<line x1="165.53810628157765" y1="437.6648538740761" x2="191.90189371842234" y2="432.2641461259239" stroke="#000" stroke-width="0.9" stroke-linecap="butt"/>
<line x1="202.44771680323387" y1="429.25041233606146" x2="229.27228319676615" y2="419.3169626639385" stroke="#000" stroke-width="0.9" stroke-linecap="butt"/>
<line x1="81.82000000000001" y1="400.23437499999994" x2="89.92" y2="410.58437499999997" stroke="#000" stroke-width="1" />
<line x1="81.82000000000001" y1="410.58437499999997" x2="89.92" y2="400.23437499999994" stroke="#000" stroke-width="1" />
<line x1="85.87" y1="399.65937499999995" x2="85.87" y2="411.15937499999995" stroke="#000" stroke-width="1" />
<line x1="118.96" y1="410.768875" x2="127.05999999999999" y2="421.118875" stroke="#000" stroke-width="1" />
<line x1="118.96" y1="421.118875" x2="127.05999999999999" y2="410.768875" stroke="#000" stroke-width="1" />
<line x1="123.00999999999999" y1="410.193875" x2="123.00999999999999" y2="421.693875" stroke="#000" stroke-width="1" />
<line x1="156.09999999999997" y1="433.593625" x2="164.2" y2="443.943625" stroke="#000" stroke-width="1" />
<line x1="156.09999999999997" y1="443.943625" x2="164.2" y2="433.593625" stroke="#000" stroke-width="1" />
<line x1="160.14999999999998" y1="433.018625" x2="160.14999999999998" y2="444.518625" stroke="#000" stroke-width="1" />
<line x1="193.24" y1="425.985375" x2="201.34000000000003" y2="436.335375" stroke="#000" stroke-width="1" />
<line x1="193.24" y1="436.335375" x2="201.34000000000003" y2="425.985375" stroke="#000" stroke-width="1" />
<line x1="197.29000000000002" y1="425.410375" x2="197.29000000000002" y2="436.910375" stroke="#000" stroke-width="1" />
<line x1="230.38" y1="412.23199999999997" x2="238.48000000000002" y2="422.582" stroke="#000" stroke-width="1" />
<line x1="230.38" y1="422.582" x2="238.48000000000002" y2="412.23199999999997" stroke="#000" stroke-width="1" />
<line x1="234.43" y1="411.657" x2="234.43" y2="423.157" stroke="#000" stroke-width="1" />
<line x1="85.87" y1="443.450625" x2="85.87" y2="453.6925" stroke="#333" stroke-width="1" />
<line x1="82.67" y1="443.450625" x2="89.07000000000001" y2="443.450625" stroke="#333" stroke-width="1" />
<line x1="82.67" y1="453.6925" x2="89.07000000000001" y2="453.6925" stroke="#333" stroke-width="1" />
<line x1="123.00999999999999" y1="439.939125" x2="123.00999999999999" y2="449.303125" stroke="#333" stroke-width="1" />
<line x1="119.80999999999999" y1="439.939125" x2="126.21" y2="439.939125" stroke="#333" stroke-width="1" />
<line x1="119.80999999999999" y1="449.303125" x2="126.21" y2="449.303125" stroke="#333" stroke-width="1" />
<line x1="197.29000000000002" y1="409.79875" x2="197.29000000000002" y2="428.819375" stroke="#333" stroke-width="1" />
<line x1="194.09000000000003" y1="409.79875" x2="200.49" y2="409.79875" stroke="#333" stroke-width="1" />
<line x1="194.09000000000003" y1="428.819375" x2="200.49" y2="428.819375" stroke="#333" stroke-width="1" />
<line x1="234.43" y1="395.1675" x2="234.43" y2="418.5775" stroke="#333" stroke-width="1" />
<line x1="231.23000000000002" y1="395.1675" x2="237.63" y2="395.1675" stroke="#333" stroke-width="1" />
<line x1="231.23000000000002" y1="418.5775" x2="237.63" y2="418.5775" stroke="#333" stroke-width="1" />
<polyline points="85.87,448.717875 123.00999999999999,444.91375 160.14999999999998,439.06125 197.29000000000002,418.5775 234.43,405.994625" stroke="#000" stroke-width="2" fill="none" stroke-linejoin="round" />
<polygon points="85.87,443.717875 89.47,448.717875 85.87,453.717875 82.27000000000001,448.717875" fill="#000" stroke="#000" stroke-width="0.5"/>
<polygon points="123.00999999999999,439.91375 126.60999999999999,444.91375 123.00999999999999,449.91375 119.41,444.91375" fill="#000" stroke="#000" stroke-width="0.5"/>
<polygon points="160.14999999999998,434.06125 163.74999999999997,439.06125 160.14999999999998,444.06125 156.54999999999998,439.06125" fill="#000" stroke="#000" stroke-width="0.5"/>
<polygon points="197.29000000000002,413.5775 200.89000000000001,418.5775 197.29000000000002,423.5775 193.69000000000003,418.5775" fill="#000" stroke="#000" stroke-width="0.5"/>
<polygon points="234.43,400.994625 238.03,405.994625 234.43,410.994625 230.83,405.994625" fill="#000" stroke="#000" stroke-width="0.5"/>
<line x1="123.5" y1="364.6" x2="131.95" y2="364.6" stroke="#000" stroke-width="2" />
<line x1="139.55" y1="364.6" x2="148" y2="364.6" stroke="#000" stroke-width="2" />
<polygon points="135.75,360.40000000000003 138.55,364.6 135.75,368.8 132.95,364.6" fill="#000" stroke="#000" stroke-width="0.5"/>
<text x="150" y="368.56" font-size="11" text-anchor="start" font-weight="normal" fill="#000" font-family='"Liberation Sans", sans-serif' textLength="40" lengthAdjust="spacingAndGlyphs" >Quercetin</text>
<line x1="123.5" y1="386.2" x2="131.95" y2="386.2" stroke="#000" stroke-width="1" />
<line x1="139.55" y1="386.2" x2="148" y2="386.2" stroke="#000" stroke-width="1" />
<line x1="132.6" y1="382.51" x2="138.9" y2="389.89" stroke="#000" stroke-width="1" />
<line x1="132.6" y1="389.89" x2="138.9" y2="382.51" stroke="#000" stroke-width="1" />
<line x1="135.75" y1="382.09999999999997" x2="135.75" y2="390.3" stroke="#000" stroke-width="1" />
<text x="150" y="390.15999999999997" font-size="11" text-anchor="start" font-weight="normal" fill="#000" font-family='"Liberation Sans", sans-serif' textLength="29" lengthAdjust="spacingAndGlyphs" >Q+B20</text>
<line x1="310.2" y1="354.8" x2="310.2" y2="468" stroke="#999" stroke-width="1" />
<line x1="310.2" y1="468" x2="518.5" y2="468" stroke="#999" stroke-width="1" />
<line x1="307.5" y1="468.0" x2="310.2" y2="468.0" stroke="#999" stroke-width="1" />
<text x="303.2" y="472.32" font-size="12" text-anchor="end" font-weight="normal" fill="#000" font-family='"Liberation Sans", sans-serif' textLength="5.2" lengthAdjust="spacingAndGlyphs" >0</text>
<line x1="307.5" y1="445.36" x2="310.2" y2="445.36" stroke="#999" stroke-width="1" />
<text x="303.2" y="449.68" font-size="12" text-anchor="end" font-weight="normal" fill="#000" font-family='"Liberation Sans", sans-serif' textLength="10.4" lengthAdjust="spacingAndGlyphs" >10</text>
<line x1="307.5" y1="422.72" x2="310.2" y2="422.72" stroke="#999" stroke-width="1" />
<text x="303.2" y="427.04" font-size="12" text-anchor="end" font-weight="normal" fill="#000" font-family='"Liberation Sans", sans-serif' textLength="10.4" lengthAdjust="spacingAndGlyphs" >20</text>
<line x1="307.5" y1="400.08000000000004" x2="310.2" y2="400.08000000000004" stroke="#999" stroke-width="1" />
<text x="303.2" y="404.40000000000003" font-size="12" text-anchor="end" font-weight="normal" fill="#000" font-family='"Liberation Sans", sans-serif' textLength="10.4" lengthAdjust="spacingAndGlyphs" >30</text>
<line x1="307.5" y1="377.44" x2="310.2" y2="377.44" stroke="#999" stroke-width="1" />
<text x="303.2" y="381.76" font-size="12" text-anchor="end" font-weight="normal" fill="#000" font-family='"Liberation Sans", sans-serif' textLength="10.4" lengthAdjust="spacingAndGlyphs" >40</text>
<line x1="307.5" y1="354.8" x2="310.2" y2="354.8" stroke="#999" stroke-width="1" />
<text x="303.2" y="359.12" font-size="12" text-anchor="end" font-weight="normal" fill="#000" font-family='"Liberation Sans", sans-serif' textLength="10.4" lengthAdjust="spacingAndGlyphs" >50</text>
<line x1="310.2" y1="468" x2="310.2" y2="471" stroke="#999" stroke-width="1" />
<line x1="351.86" y1="468" x2="351.86" y2="471" stroke="#999" stroke-width="1" />
<line x1="393.52" y1="468" x2="393.52" y2="471" stroke="#999" stroke-width="1" />
<line x1="435.18" y1="468" x2="435.18" y2="471" stroke="#999" stroke-width="1" />
<line x1="476.84000000000003" y1="468" x2="476.84000000000003" y2="471" stroke="#999" stroke-width="1" />
<line x1="518.5" y1="468" x2="518.5" y2="471" stroke="#999" stroke-width="1" />
<text x="331.03" y="490" font-size="11.5" text-anchor="middle" font-weight="normal" fill="#000" font-family='"Liberation Sans", sans-serif' textLength="5.0" lengthAdjust="spacingAndGlyphs" >0</text>
<text x="372.69" y="490" font-size="11.5" text-anchor="middle" font-weight="normal" fill="#000" font-family='"Liberation Sans", sans-serif' textLength="10.0" lengthAdjust="spacingAndGlyphs" >10</text>
<text x="414.35" y="490" font-size="11.5" text-anchor="middle" font-weight="normal" fill="#000" font-family='"Liberation Sans", sans-serif' textLength="10.0" lengthAdjust="spacingAndGlyphs" >20</text>
<text x="456.01" y="490" font-size="11.5" text-anchor="middle" font-weight="normal" fill="#000" font-family='"Liberation Sans", sans-serif' textLength="10.0" lengthAdjust="spacingAndGlyphs" >40</text>
<text x="497.67" y="490" font-size="11.5" text-anchor="middle" font-weight="normal" fill="#000" font-family='"Liberation Sans", sans-serif' textLength="10.0" lengthAdjust="spacingAndGlyphs" >60</text>
<text x="414.2" y="511.5" font-size="11.5" text-anchor="middle" font-weight="normal" fill="#000" font-family='"Liberation Sans", sans-serif' textLength="59.6" lengthAdjust="spacingAndGlyphs" >Quercetin (µM)</text>
<text x="287" y="411" font-size="10.5" text-anchor="middle" font-family='"Liberation Sans", sans-serif' textLength="87.5" lengthAdjust="spacing" transform="rotate(-90 287 411)">% of apoptosis</text>
<text x="325.5" y="355" font-size="15" text-anchor="start" font-weight="normal" fill="#000" font-family='"Liberation Sans", sans-serif' textLength="49.5" lengthAdjust="spacingAndGlyphs" >DoHH2</text>
<line x1="331.03" y1="362.72400000000005" x2="331.03" y2="392.156" stroke="#333" stroke-width="1" />
<line x1="327.83" y1="362.72400000000005" x2="334.22999999999996" y2="362.72400000000005" stroke="#333" stroke-width="1" />
<line x1="327.83" y1="392.156" x2="334.22999999999996" y2="392.156" stroke="#333" stroke-width="1" />
<line x1="372.69" y1="429.512" x2="372.69" y2="438.568" stroke="#333" stroke-width="1" />
<line x1="369.49" y1="429.512" x2="375.89" y2="429.512" stroke="#333" stroke-width="1" />
<line x1="369.49" y1="438.568" x2="375.89" y2="438.568" stroke="#333" stroke-width="1" />
<line x1="414.35" y1="448.756" x2="414.35" y2="455.548" stroke="#333" stroke-width="1" />
<line x1="411.15000000000003" y1="448.756" x2="417.55" y2="448.756" stroke="#333" stroke-width="1" />
<line x1="411.15000000000003" y1="455.548" x2="417.55" y2="455.548" stroke="#333" stroke-width="1" />
<line x1="456.01" y1="443.096" x2="456.01" y2="452.152" stroke="#333" stroke-width="1" />
<line x1="452.81" y1="443.096" x2="459.21" y2="443.096" stroke="#333" stroke-width="1" />
<line x1="452.81" y1="452.152" x2="459.21" y2="452.152" stroke="#333" stroke-width="1" />
<line x1="497.67" y1="410.26800000000003" x2="497.67" y2="441.964" stroke="#333" stroke-width="1" />
<line x1="494.47" y1="410.26800000000003" x2="500.87" y2="410.26800000000003" stroke="#333" stroke-width="1" />
<line x1="494.47" y1="441.964" x2="500.87" y2="441.964" stroke="#333" stroke-width="1" />
<line x1="334.2734450842592" y1="382.33465366546386" x2="369.44655491574076" y2="430.5037463345362" stroke="#000" stroke-width="1.8" stroke-linecap="butt"/>
<line x1="377.77348052562024" y1="437.04517751598735" x2="409.2665194743798" y2="450.05242248401265" stroke="#000" stroke-width="1.8" stroke-linecap="butt"/>
<line x1="419.8177982249134" y1="451.5577083446373" x2="450.5422017750866" y2="448.2182916553627" stroke="#000" stroke-width="1.8" stroke-linecap="butt"/>
<line x1="460.8644628324965" y1="445.03861983300135" x2="492.8155371675035" y2="428.0221801669987" stroke="#000" stroke-width="1.8" stroke-linecap="butt"/>
<line x1="327.25" y1="372.49280000000005" x2="334.80999999999995" y2="383.2928" stroke="#000" stroke-width="1" />
<line x1="327.25" y1="383.2928" x2="334.80999999999995" y2="372.49280000000005" stroke="#000" stroke-width="1" />
<line x1="331.03" y1="371.8928" x2="331.03" y2="383.8928" stroke="#000" stroke-width="1" />
<line x1="368.91" y1="429.54560000000004" x2="376.46999999999997" y2="440.3456" stroke="#000" stroke-width="1" />
<line x1="368.91" y1="440.3456" x2="376.46999999999997" y2="429.54560000000004" stroke="#000" stroke-width="1" />
<line x1="372.69" y1="428.9456" x2="372.69" y2="440.9456" stroke="#000" stroke-width="1" />
<line x1="410.57000000000005" y1="446.752" x2="418.13" y2="457.55199999999996" stroke="#000" stroke-width="1" />
<line x1="410.57000000000005" y1="457.55199999999996" x2="418.13" y2="446.752" stroke="#000" stroke-width="1" />
<line x1="414.35" y1="446.152" x2="414.35" y2="458.152" stroke="#000" stroke-width="1" />
<line x1="452.23" y1="442.22400000000005" x2="459.78999999999996" y2="453.024" stroke="#000" stroke-width="1" />
<line x1="452.23" y1="453.024" x2="459.78999999999996" y2="442.22400000000005" stroke="#000" stroke-width="1" />
<line x1="456.01" y1="441.624" x2="456.01" y2="453.624" stroke="#000" stroke-width="1" />
<line x1="493.89000000000004" y1="420.0368" x2="501.45" y2="430.8368" stroke="#000" stroke-width="1" />
<line x1="493.89000000000004" y1="430.8368" x2="501.45" y2="420.0368" stroke="#000" stroke-width="1" />
<line x1="497.67" y1="419.4368" x2="497.67" y2="431.4368" stroke="#000" stroke-width="1" />
<line x1="456.01" y1="430.644" x2="456.01" y2="447.624" stroke="#333" stroke-width="1" />
<line x1="452.81" y1="430.644" x2="459.21" y2="430.644" stroke="#333" stroke-width="1" />
<line x1="452.81" y1="447.624" x2="459.21" y2="447.624" stroke="#333" stroke-width="1" />
<line x1="497.67" y1="409.136" x2="497.67" y2="440.832" stroke="#333" stroke-width="1" />
<line x1="494.47" y1="409.136" x2="500.87" y2="409.136" stroke="#333" stroke-width="1" />
<line x1="494.47" y1="440.832" x2="500.87" y2="440.832" stroke="#333" stroke-width="1" />
<polyline points="331.03,460.9816 372.69,461.6608 414.35,452.152 456.01,441.2848 497.67,425.4368" stroke="#000" stroke-width="1.8" fill="none" stroke-linejoin="round" />
<polygon points="331.03,455.6816 334.63,460.9816 331.03,466.2816 327.42999999999995,460.9816" fill="#000" stroke="#000" stroke-width="0.5"/>
<polygon points="372.69,456.3608 376.29,461.6608 372.69,466.9608 369.09,461.6608" fill="#000" stroke="#000" stroke-width="0.5"/>
<polygon points="414.35,446.852 417.95000000000005,452.152 414.35,457.452 410.75,452.152" fill="#000" stroke="#000" stroke-width="0.5"/>
<polygon points="456.01,435.9848 459.61,441.2848 456.01,446.58480000000003 452.40999999999997,441.2848" fill="#000" stroke="#000" stroke-width="0.5"/>
<polygon points="497.67,420.1368 501.27000000000004,425.4368 497.67,430.7368 494.07,425.4368" fill="#000" stroke="#000" stroke-width="0.5"/>
<line x1="385" y1="362" x2="393.7" y2="362" stroke="#000" stroke-width="1.8" />
<line x1="401.3" y1="362" x2="410" y2="362" stroke="#000" stroke-width="1.8" />
<polygon points="397.5,357.8 400.3,362 397.5,366.2 394.7,362" fill="#000" stroke="#000" stroke-width="0.5"/>
<text x="412.5" y="365.96" font-size="11" text-anchor="start" font-weight="normal" fill="#000" font-family='"Liberation Sans", sans-serif' textLength="39.5" lengthAdjust="spacingAndGlyphs" >Quercetin</text>
<line x1="385" y1="389.5" x2="393.7" y2="389.5" stroke="#000" stroke-width="1.8" />
<line x1="401.3" y1="389.5" x2="410" y2="389.5" stroke="#000" stroke-width="1.8" />
<line x1="394.35" y1="385.81" x2="400.65" y2="393.19" stroke="#000" stroke-width="1" />
<line x1="394.35" y1="393.19" x2="400.65" y2="385.81" stroke="#000" stroke-width="1" />
<line x1="397.5" y1="385.4" x2="397.5" y2="393.6" stroke="#000" stroke-width="1" />
<text x="412.5" y="393.46" font-size="11" text-anchor="start" font-weight="normal" fill="#000" font-family='"Liberation Sans", sans-serif' textLength="28.5" lengthAdjust="spacingAndGlyphs" >Q+B20</text>
<line x1="67.3" y1="542" x2="67.3" y2="659.5" stroke="#999" stroke-width="1" />
<line x1="67.3" y1="659.5" x2="237.5" y2="659.5" stroke="#999" stroke-width="1" />
<line x1="64.3" y1="659.5" x2="67.3" y2="659.5" stroke="#999" stroke-width="1" />
<text x="59.8" y="662.92" font-size="9.5" text-anchor="end" font-weight="normal" fill="#222" font-family='"Liberation Sans", sans-serif' textLength="5.3" lengthAdjust="spacingAndGlyphs" >0</text>
<line x1="64.3" y1="620.3333333333334" x2="67.3" y2="620.3333333333334" stroke="#999" stroke-width="1" />
<text x="59.8" y="623.7533333333333" font-size="9.5" text-anchor="end" font-weight="normal" fill="#222" font-family='"Liberation Sans", sans-serif' textLength="10.6" lengthAdjust="spacingAndGlyphs" >10</text>
<line x1="64.3" y1="581.1666666666666" x2="67.3" y2="581.1666666666666" stroke="#999" stroke-width="1" />
<text x="59.8" y="584.5866666666666" font-size="9.5" text-anchor="end" font-weight="normal" fill="#222" font-family='"Liberation Sans", sans-serif' textLength="10.6" lengthAdjust="spacingAndGlyphs" >20</text>
<line x1="64.3" y1="542.0" x2="67.3" y2="542.0" stroke="#999" stroke-width="1" />
<text x="59.8" y="545.42" font-size="9.5" text-anchor="end" font-weight="normal" fill="#222" font-family='"Liberation Sans", sans-serif' textLength="10.6" lengthAdjust="spacingAndGlyphs" >30</text>
<line x1="67.3" y1="659.5" x2="67.3" y2="662.5" stroke="#999" stroke-width="1" />
<line x1="101.34" y1="659.5" x2="101.34" y2="662.5" stroke="#999" stroke-width="1" />
<line x1="135.38" y1="659.5" x2="135.38" y2="662.5" stroke="#999" stroke-width="1" />
<line x1="169.42000000000002" y1="659.5" x2="169.42000000000002" y2="662.5" stroke="#999" stroke-width="1" />
<line x1="203.45999999999998" y1="659.5" x2="203.45999999999998" y2="662.5" stroke="#999" stroke-width="1" />
<line x1="237.5" y1="659.5" x2="237.5" y2="662.5" stroke="#999" stroke-width="1" />
<text x="84.32" y="676" font-size="9.5" text-anchor="middle" font-weight="normal" fill="#222" font-family='"Liberation Sans", sans-serif' textLength="5.3" lengthAdjust="spacingAndGlyphs" >0</text>
<text x="118.36" y="676" font-size="9.5" text-anchor="middle" font-weight="normal" fill="#222" font-family='"Liberation Sans", sans-serif' textLength="10.6" lengthAdjust="spacingAndGlyphs" >10</text>
<text x="152.39999999999998" y="676" font-size="9.5" text-anchor="middle" font-weight="normal" fill="#222" font-family='"Liberation Sans", sans-serif' textLength="10.6" lengthAdjust="spacingAndGlyphs" >20</text>
<text x="186.44" y="676" font-size="9.5" text-anchor="middle" font-weight="normal" fill="#222" font-family='"Liberation Sans", sans-serif' textLength="10.6" lengthAdjust="spacingAndGlyphs" >40</text>
<text x="220.48000000000002" y="676" font-size="9.5" text-anchor="middle" font-weight="normal" fill="#222" font-family='"Liberation Sans", sans-serif' textLength="10.6" lengthAdjust="spacingAndGlyphs" >60</text>
<text x="152.5" y="689.5" font-size="10" text-anchor="middle" font-weight="normal" fill="#000" font-family='"Liberation Sans", sans-serif' textLength="68" lengthAdjust="spacingAndGlyphs" >Quercetin (µM)</text>
<text x="45" y="602" font-size="8.7" text-anchor="middle" font-weight="normal" fill="#000" font-family='"Liberation Sans", sans-serif' textLength="58" lengthAdjust="spacingAndGlyphs" transform="rotate(-90 45 602)" >% of apoptosis</text>
<text x="89" y="544" font-size="16" text-anchor="start" font-weight="normal" fill="#000" font-family='"Liberation Sans", sans-serif' textLength="35" lengthAdjust="spacingAndGlyphs" >U266</text>
<line x1="84.32" y1="553.75" x2="84.32" y2="592.9166666666666" stroke="#777" stroke-width="1" />
<line x1="81.32" y1="553.75" x2="87.32" y2="553.75" stroke="#777" stroke-width="1" />
<line x1="81.32" y1="592.9166666666666" x2="87.32" y2="592.9166666666666" stroke="#777" stroke-width="1" />
<line x1="118.36" y1="578.0333333333333" x2="118.36" y2="603.8833333333333" stroke="#777" stroke-width="1" />
<line x1="115.36" y1="578.0333333333333" x2="121.36" y2="578.0333333333333" stroke="#777" stroke-width="1" />
<line x1="115.36" y1="603.8833333333333" x2="121.36" y2="603.8833333333333" stroke="#777" stroke-width="1" />
<line x1="152.39999999999998" y1="604.6666666666666" x2="152.39999999999998" y2="641.4833333333333" stroke="#777" stroke-width="1" />
<line x1="149.39999999999998" y1="604.6666666666666" x2="155.39999999999998" y2="604.6666666666666" stroke="#777" stroke-width="1" />
<line x1="149.39999999999998" y1="641.4833333333333" x2="155.39999999999998" y2="641.4833333333333" stroke="#777" stroke-width="1" />
<line x1="186.44" y1="623.075" x2="186.44" y2="633.2583333333333" stroke="#777" stroke-width="1" />
<line x1="183.44" y1="623.075" x2="189.44" y2="623.075" stroke="#777" stroke-width="1" />
<line x1="183.44" y1="633.2583333333333" x2="189.44" y2="633.2583333333333" stroke="#777" stroke-width="1" />
<line x1="220.48000000000002" y1="608.5833333333334" x2="220.48000000000002" y2="635.2166666666667" stroke="#777" stroke-width="1" />
<line x1="217.48000000000002" y1="608.5833333333334" x2="223.48000000000002" y2="608.5833333333334" stroke="#777" stroke-width="1" />
<line x1="217.48000000000002" y1="635.2166666666667" x2="223.48000000000002" y2="635.2166666666667" stroke="#777" stroke-width="1" />
<polyline points="84.32,572.9416666666666 118.36,590.9583333333334 152.39999999999998,617.2 186.44,628.1666666666666 220.48000000000002,622.2916666666666" stroke="#000" stroke-width="1.2" fill="none" stroke-linejoin="round" />
<line x1="81.16999999999999" y1="569.7916666666666" x2="87.47" y2="576.0916666666666" stroke="#000" stroke-width="1" />
<line x1="81.16999999999999" y1="576.0916666666666" x2="87.47" y2="569.7916666666666" stroke="#000" stroke-width="1" />
<line x1="84.32" y1="569.4416666666666" x2="84.32" y2="576.4416666666666" stroke="#000" stroke-width="1" />
<line x1="115.21" y1="587.8083333333334" x2="121.51" y2="594.1083333333333" stroke="#000" stroke-width="1" />
<line x1="115.21" y1="594.1083333333333" x2="121.51" y2="587.8083333333334" stroke="#000" stroke-width="1" />
<line x1="118.36" y1="587.4583333333334" x2="118.36" y2="594.4583333333334" stroke="#000" stroke-width="1" />
<line x1="149.24999999999997" y1="614.0500000000001" x2="155.54999999999998" y2="620.35" stroke="#000" stroke-width="1" />
<line x1="149.24999999999997" y1="620.35" x2="155.54999999999998" y2="614.0500000000001" stroke="#000" stroke-width="1" />
<line x1="152.39999999999998" y1="613.7" x2="152.39999999999998" y2="620.7" stroke="#000" stroke-width="1" />
<line x1="183.29" y1="625.0166666666667" x2="189.59" y2="631.3166666666666" stroke="#000" stroke-width="1" />
<line x1="183.29" y1="631.3166666666666" x2="189.59" y2="625.0166666666667" stroke="#000" stroke-width="1" />
<line x1="186.44" y1="624.6666666666666" x2="186.44" y2="631.6666666666666" stroke="#000" stroke-width="1" />
<line x1="217.33" y1="619.1416666666667" x2="223.63000000000002" y2="625.4416666666666" stroke="#000" stroke-width="1" />
<line x1="217.33" y1="625.4416666666666" x2="223.63000000000002" y2="619.1416666666667" stroke="#000" stroke-width="1" />
<line x1="220.48000000000002" y1="618.7916666666666" x2="220.48000000000002" y2="625.7916666666666" stroke="#000" stroke-width="1" />
<line x1="118.36" y1="633.65" x2="118.36" y2="643.05" stroke="#777" stroke-width="1" />
<line x1="115.36" y1="633.65" x2="121.36" y2="633.65" stroke="#777" stroke-width="1" />
<line x1="115.36" y1="643.05" x2="121.36" y2="643.05" stroke="#777" stroke-width="1" />
<line x1="220.48000000000002" y1="622.2916666666666" x2="220.48000000000002" y2="634.0416666666666" stroke="#777" stroke-width="1" />
<line x1="217.48000000000002" y1="622.2916666666666" x2="223.48000000000002" y2="622.2916666666666" stroke="#777" stroke-width="1" />
<line x1="217.48000000000002" y1="634.0416666666666" x2="223.48000000000002" y2="634.0416666666666" stroke="#777" stroke-width="1" />
<polyline points="84.32,639.9166666666666 118.36,638.7416666666667 152.39999999999998,630.125 186.44,628.1666666666666 220.48000000000002,628.1666666666666" stroke="#000" stroke-width="1.2" fill="none" stroke-linejoin="round" />
<polygon points="84.32,636.7166666666666 88.02,639.9166666666666 84.32,643.1166666666667 80.61999999999999,639.9166666666666" fill="#000" stroke="#000" stroke-width="0.5"/>
<polygon points="118.36,635.5416666666666 122.06,638.7416666666667 118.36,641.9416666666667 114.66,638.7416666666667" fill="#000" stroke="#000" stroke-width="0.5"/>
<polygon points="152.39999999999998,626.925 156.09999999999997,630.125 152.39999999999998,633.325 148.7,630.125" fill="#000" stroke="#000" stroke-width="0.5"/>
<polygon points="186.44,624.9666666666666 190.14,628.1666666666666 186.44,631.3666666666667 182.74,628.1666666666666" fill="#000" stroke="#000" stroke-width="0.5"/>
<polygon points="220.48000000000002,624.9666666666666 224.18,628.1666666666666 220.48000000000002,631.3666666666667 216.78000000000003,628.1666666666666" fill="#000" stroke="#000" stroke-width="0.5"/>
<line x1="142" y1="545" x2="164.5" y2="545" stroke="#000" stroke-width="1" />
<polygon points="153.25,542.3 156.25,545 153.25,547.7 150.25,545" fill="#000" stroke="#000" stroke-width="0.5"/>
<text x="167.5" y="548.6" font-size="10" text-anchor="start" font-weight="normal" fill="#000" font-family='"Liberation Sans", sans-serif' textLength="43" lengthAdjust="spacingAndGlyphs" >Quercetin</text>
<line x1="142" y1="558.75" x2="164.5" y2="558.75" stroke="#000" stroke-width="1" />
<line x1="150.55" y1="556.05" x2="155.95" y2="561.45" stroke="#000" stroke-width="1" />
<line x1="150.55" y1="561.45" x2="155.95" y2="556.05" stroke="#000" stroke-width="1" />
<line x1="153.25" y1="555.75" x2="153.25" y2="561.75" stroke="#000" stroke-width="1" />
<text x="167.5" y="562.35" font-size="10" text-anchor="start" font-weight="normal" fill="#000" font-family='"Liberation Sans", sans-serif' textLength="31" lengthAdjust="spacingAndGlyphs" >Q+B20</text>
<line x1="318.5" y1="540" x2="318.5" y2="660" stroke="#999" stroke-width="1" />
<line x1="318.5" y1="660" x2="516" y2="660" stroke="#999" stroke-width="1" />
<line x1="315.5" y1="660.0" x2="318.5" y2="660.0" stroke="#999" stroke-width="1" />
<text x="311.0" y="663.42" font-size="9.5" text-anchor="end" font-weight="normal" fill="#222" font-family='"Liberation Sans", sans-serif' textLength="5.3" lengthAdjust="spacingAndGlyphs" >0</text>
<line x1="315.5" y1="636.0" x2="318.5" y2="636.0" stroke="#999" stroke-width="1" />
<text x="311.0" y="639.42" font-size="9.5" text-anchor="end" font-weight="normal" fill="#222" font-family='"Liberation Sans", sans-serif' textLength="10.6" lengthAdjust="spacingAndGlyphs" >10</text>
<line x1="315.5" y1="612.0" x2="318.5" y2="612.0" stroke="#999" stroke-width="1" />
<text x="311.0" y="615.42" font-size="9.5" text-anchor="end" font-weight="normal" fill="#222" font-family='"Liberation Sans", sans-serif' textLength="10.6" lengthAdjust="spacingAndGlyphs" >20</text>
<line x1="315.5" y1="588.0" x2="318.5" y2="588.0" stroke="#999" stroke-width="1" />
<text x="311.0" y="591.42" font-size="9.5" text-anchor="end" font-weight="normal" fill="#222" font-family='"Liberation Sans", sans-serif' textLength="10.6" lengthAdjust="spacingAndGlyphs" >30</text>
<line x1="315.5" y1="564.0" x2="318.5" y2="564.0" stroke="#999" stroke-width="1" />
<text x="311.0" y="567.42" font-size="9.5" text-anchor="end" font-weight="normal" fill="#222" font-family='"Liberation Sans", sans-serif' textLength="10.6" lengthAdjust="spacingAndGlyphs" >40</text>
<line x1="315.5" y1="540.0" x2="318.5" y2="540.0" stroke="#999" stroke-width="1" />
<text x="311.0" y="543.42" font-size="9.5" text-anchor="end" font-weight="normal" fill="#222" font-family='"Liberation Sans", sans-serif' textLength="10.6" lengthAdjust="spacingAndGlyphs" >50</text>
<line x1="318.5" y1="660" x2="318.5" y2="663" stroke="#999" stroke-width="1" />
<line x1="358.0" y1="660" x2="358.0" y2="663" stroke="#999" stroke-width="1" />
<line x1="397.5" y1="660" x2="397.5" y2="663" stroke="#999" stroke-width="1" />
<line x1="437.0" y1="660" x2="437.0" y2="663" stroke="#999" stroke-width="1" />
<line x1="476.5" y1="660" x2="476.5" y2="663" stroke="#999" stroke-width="1" />
<line x1="516.0" y1="660" x2="516.0" y2="663" stroke="#999" stroke-width="1" />
<text x="338.25" y="677" font-size="9.5" text-anchor="middle" font-weight="normal" fill="#222" font-family='"Liberation Sans", sans-serif' textLength="5.3" lengthAdjust="spacingAndGlyphs" >0</text>
<text x="377.75" y="677" font-size="9.5" text-anchor="middle" font-weight="normal" fill="#222" font-family='"Liberation Sans", sans-serif' textLength="10.6" lengthAdjust="spacingAndGlyphs" >10</text>
<text x="417.25" y="677" font-size="9.5" text-anchor="middle" font-weight="normal" fill="#222" font-family='"Liberation Sans", sans-serif' textLength="10.6" lengthAdjust="spacingAndGlyphs" >20</text>
<text x="456.75" y="677" font-size="9.5" text-anchor="middle" font-weight="normal" fill="#222" font-family='"Liberation Sans", sans-serif' textLength="10.6" lengthAdjust="spacingAndGlyphs" >40</text>
<text x="496.25" y="677" font-size="9.5" text-anchor="middle" font-weight="normal" fill="#222" font-family='"Liberation Sans", sans-serif' textLength="10.6" lengthAdjust="spacingAndGlyphs" >60</text>
<text x="417" y="689.5" font-size="10" text-anchor="middle" font-weight="normal" fill="#000" font-family='"Liberation Sans", sans-serif' textLength="68" lengthAdjust="spacingAndGlyphs" >Quercetin (µM)</text>
<text x="291" y="601" font-size="8.7" text-anchor="middle" font-weight="normal" fill="#000" font-family='"Liberation Sans", sans-serif' textLength="60" lengthAdjust="spacingAndGlyphs" transform="rotate(-90 291 601)" >% of apoptosis</text>
<text x="332.5" y="546" font-size="15" text-anchor="start" font-weight="normal" fill="#000" font-family='"Liberation Sans", sans-serif' textLength="75.5" lengthAdjust="spacingAndGlyphs" >RPMI-8226</text>
<line x1="338.25" y1="556.8" x2="338.25" y2="565.2" stroke="#000" stroke-width="1" />
<line x1="335.25" y1="556.8" x2="341.25" y2="556.8" stroke="#000" stroke-width="1" />
<line x1="335.25" y1="565.2" x2="341.25" y2="565.2" stroke="#000" stroke-width="1" />
<line x1="496.25" y1="615.6" x2="496.25" y2="622.8" stroke="#000" stroke-width="1" />
<line x1="493.25" y1="615.6" x2="499.25" y2="615.6" stroke="#000" stroke-width="1" />
<line x1="493.25" y1="622.8" x2="499.25" y2="622.8" stroke="#000" stroke-width="1" />
<polyline points="338.25,561.36 377.75,588.0 417.25,625.68 456.75,621.36 496.25,619.44" stroke="#000" stroke-width="1.2" fill="none" stroke-linejoin="round" />
<line x1="335.1" y1="558.21" x2="341.4" y2="564.51" stroke="#000" stroke-width="1" />
<line x1="335.1" y1="564.51" x2="341.4" y2="558.21" stroke="#000" stroke-width="1" />
<line x1="338.25" y1="557.86" x2="338.25" y2="564.86" stroke="#000" stroke-width="1" />
<line x1="374.6" y1="584.85" x2="380.9" y2="591.15" stroke="#000" stroke-width="1" />
<line x1="374.6" y1="591.15" x2="380.9" y2="584.85" stroke="#000" stroke-width="1" />
<line x1="377.75" y1="584.5" x2="377.75" y2="591.5" stroke="#000" stroke-width="1" />
<line x1="414.1" y1="622.53" x2="420.4" y2="628.8299999999999" stroke="#000" stroke-width="1" />
<line x1="414.1" y1="628.8299999999999" x2="420.4" y2="622.53" stroke="#000" stroke-width="1" />
<line x1="417.25" y1="622.18" x2="417.25" y2="629.18" stroke="#000" stroke-width="1" />
<line x1="453.6" y1="618.21" x2="459.9" y2="624.51" stroke="#000" stroke-width="1" />
<line x1="453.6" y1="624.51" x2="459.9" y2="618.21" stroke="#000" stroke-width="1" />
<line x1="456.75" y1="617.86" x2="456.75" y2="624.86" stroke="#000" stroke-width="1" />
<line x1="493.1" y1="616.2900000000001" x2="499.4" y2="622.59" stroke="#000" stroke-width="1" />
<line x1="493.1" y1="622.59" x2="499.4" y2="616.2900000000001" stroke="#000" stroke-width="1" />
<line x1="496.25" y1="615.94" x2="496.25" y2="622.94" stroke="#000" stroke-width="1" />
<line x1="338.25" y1="640.32" x2="338.25" y2="646.8" stroke="#000" stroke-width="1" />
<line x1="335.25" y1="640.32" x2="341.25" y2="640.32" stroke="#000" stroke-width="1" />
<line x1="335.25" y1="646.8" x2="341.25" y2="646.8" stroke="#000" stroke-width="1" />
<line x1="456.75" y1="625.2" x2="456.75" y2="633.6" stroke="#000" stroke-width="1" />
<line x1="453.75" y1="625.2" x2="459.75" y2="625.2" stroke="#000" stroke-width="1" />
<line x1="453.75" y1="633.6" x2="459.75" y2="633.6" stroke="#000" stroke-width="1" />
<line x1="496.25" y1="613.2" x2="496.25" y2="618.0" stroke="#000" stroke-width="1" />
<line x1="493.25" y1="613.2" x2="499.25" y2="613.2" stroke="#000" stroke-width="1" />
<line x1="493.25" y1="618.0" x2="499.25" y2="618.0" stroke="#000" stroke-width="1" />
<polyline points="338.25,643.68 377.75,642.0 417.25,641.28 456.75,629.52 496.25,615.6" stroke="#000" stroke-width="1.2" fill="none" stroke-linejoin="round" />
<polygon points="338.25,640.4799999999999 341.95,643.68 338.25,646.88 334.55,643.68" fill="#000" stroke="#000" stroke-width="0.5"/>
<polygon points="377.75,638.8 381.45,642.0 377.75,645.2 374.05,642.0" fill="#000" stroke="#000" stroke-width="0.5"/>
<polygon points="417.25,638.0799999999999 420.95,641.28 417.25,644.48 413.55,641.28" fill="#000" stroke="#000" stroke-width="0.5"/>
<polygon points="456.75,626.3199999999999 460.45,629.52 456.75,632.72 453.05,629.52" fill="#000" stroke="#000" stroke-width="0.5"/>
<polygon points="496.25,612.4 499.95,615.6 496.25,618.8000000000001 492.55,615.6" fill="#000" stroke="#000" stroke-width="0.5"/>
<line x1="416" y1="556" x2="440" y2="556" stroke="#000" stroke-width="1" />
<polygon points="428.0,553.3 431.0,556 428.0,558.7 425.0,556" fill="#000" stroke="#000" stroke-width="0.5"/>
<text x="442.5" y="559.96" font-size="11" text-anchor="start" font-weight="normal" fill="#000" font-family='"Liberation Sans", sans-serif' textLength="46.5" lengthAdjust="spacingAndGlyphs" >Quercetin</text>
<line x1="416" y1="571" x2="440" y2="571" stroke="#000" stroke-width="1" />
<line x1="425.3" y1="568.3" x2="430.7" y2="573.7" stroke="#000" stroke-width="1" />
<line x1="425.3" y1="573.7" x2="430.7" y2="568.3" stroke="#000" stroke-width="1" />
<line x1="428.0" y1="568" x2="428.0" y2="574" stroke="#000" stroke-width="1" />
<text x="442.5" y="574.96" font-size="11" text-anchor="start" font-weight="normal" fill="#000" font-family='"Liberation Sans", sans-serif' textLength="33.5" lengthAdjust="spacingAndGlyphs" >Q+B20</text>
<line x1="69.4" y1="761.4" x2="69.4" y2="913.6" stroke="#999" stroke-width="1" />
<line x1="69.4" y1="913.6" x2="256.5" y2="913.6" stroke="#999" stroke-width="1" />
<line x1="65.80000000000001" y1="913.6" x2="69.4" y2="913.6" stroke="#999" stroke-width="1" />
<text x="58.800000000000004" y="917.5600000000001" font-size="11" text-anchor="end" font-weight="normal" fill="#000" font-family='"Liberation Sans", sans-serif' textLength="6.1" lengthAdjust="spacingAndGlyphs" >0</text>
<line x1="65.80000000000001" y1="875.55" x2="69.4" y2="875.55" stroke="#999" stroke-width="1" />
<text x="58.800000000000004" y="879.51" font-size="11" text-anchor="end" font-weight="normal" fill="#000" font-family='"Liberation Sans", sans-serif' textLength="12.2" lengthAdjust="spacingAndGlyphs" >10</text>
<line x1="65.80000000000001" y1="837.5" x2="69.4" y2="837.5" stroke="#999" stroke-width="1" />
<text x="58.800000000000004" y="841.46" font-size="11" text-anchor="end" font-weight="normal" fill="#000" font-family='"Liberation Sans", sans-serif' textLength="12.2" lengthAdjust="spacingAndGlyphs" >20</text>
<line x1="65.80000000000001" y1="799.4499999999999" x2="69.4" y2="799.4499999999999" stroke="#999" stroke-width="1" />
<text x="58.800000000000004" y="803.41" font-size="11" text-anchor="end" font-weight="normal" fill="#000" font-family='"Liberation Sans", sans-serif' textLength="12.2" lengthAdjust="spacingAndGlyphs" >30</text>
<line x1="65.80000000000001" y1="761.4" x2="69.4" y2="761.4" stroke="#999" stroke-width="1" />
<text x="58.800000000000004" y="765.36" font-size="11" text-anchor="end" font-weight="normal" fill="#000" font-family='"Liberation Sans", sans-serif' textLength="12.2" lengthAdjust="spacingAndGlyphs" >40</text>
<line x1="69.4" y1="913.6" x2="69.4" y2="916.6" stroke="#999" stroke-width="1" />
<line x1="116.17500000000001" y1="913.6" x2="116.17500000000001" y2="916.6" stroke="#999" stroke-width="1" />
<line x1="162.95" y1="913.6" x2="162.95" y2="916.6" stroke="#999" stroke-width="1" />
<line x1="209.725" y1="913.6" x2="209.725" y2="916.6" stroke="#999" stroke-width="1" />
<line x1="256.5" y1="913.6" x2="256.5" y2="916.6" stroke="#999" stroke-width="1" />
<text x="92.78750000000001" y="936.5" font-size="11" text-anchor="middle" font-weight="normal" fill="#000" font-family='"Liberation Sans", sans-serif' textLength="6.1" lengthAdjust="spacingAndGlyphs" >0</text>
<text x="139.5625" y="936.5" font-size="11" text-anchor="middle" font-weight="normal" fill="#000" font-family='"Liberation Sans", sans-serif' textLength="12.2" lengthAdjust="spacingAndGlyphs" >10</text>
<text x="186.3375" y="936.5" font-size="11" text-anchor="middle" font-weight="normal" fill="#000" font-family='"Liberation Sans", sans-serif' textLength="12.2" lengthAdjust="spacingAndGlyphs" >20</text>
<text x="233.1125" y="936.5" font-size="11" text-anchor="middle" font-weight="normal" fill="#000" font-family='"Liberation Sans", sans-serif' textLength="12.2" lengthAdjust="spacingAndGlyphs" >40</text>
<text x="162.5" y="946" font-size="12" text-anchor="middle" font-weight="normal" fill="#000" font-family='"Liberation Sans", sans-serif' textLength="90" lengthAdjust="spacingAndGlyphs" >Bortezomib (nM)</text>
<text x="36.7" y="840" font-size="11.3" text-anchor="middle" font-weight="normal" fill="#000" font-family='"Liberation Sans", sans-serif' textLength="74.2" lengthAdjust="spacingAndGlyphs" transform="rotate(-90 36.7 840)" >% of apoptosis</text>
<text x="96" y="752" font-size="16" text-anchor="start" font-weight="normal" fill="#000" font-family='"Liberation Sans", sans-serif' textLength="51" lengthAdjust="spacingAndGlyphs" >HRC57</text>
<line x1="92.78750000000001" y1="885.0625" x2="92.78750000000001" y2="898.38" stroke="#555" stroke-width="1" />
<line x1="89.28750000000001" y1="885.0625" x2="96.28750000000001" y2="885.0625" stroke="#555" stroke-width="1" />
<line x1="89.28750000000001" y1="898.38" x2="96.28750000000001" y2="898.38" stroke="#555" stroke-width="1" />
<line x1="139.5625" y1="879.355" x2="139.5625" y2="894.575" stroke="#555" stroke-width="1" />
<line x1="136.0625" y1="879.355" x2="143.0625" y2="879.355" stroke="#555" stroke-width="1" />
<line x1="136.0625" y1="894.575" x2="143.0625" y2="894.575" stroke="#555" stroke-width="1" />
<line x1="186.3375" y1="871.745" x2="186.3375" y2="885.0625" stroke="#555" stroke-width="1" />
<line x1="182.8375" y1="871.745" x2="189.8375" y2="871.745" stroke="#555" stroke-width="1" />
<line x1="182.8375" y1="885.0625" x2="189.8375" y2="885.0625" stroke="#555" stroke-width="1" />
<line x1="233.1125" y1="822.28" x2="233.1125" y2="860.33" stroke="#555" stroke-width="1" />
<line x1="229.6125" y1="822.28" x2="236.6125" y2="822.28" stroke="#555" stroke-width="1" />
<line x1="229.6125" y1="860.33" x2="236.6125" y2="860.33" stroke="#555" stroke-width="1" />
<polyline points="92.78750000000001,891.5310000000001 139.5625,885.443 186.3375,877.833 233.1125,837.8805" stroke="#000" stroke-width="1.2" fill="none" stroke-linejoin="round" />
<line x1="89.18750000000001" y1="887.931" x2="96.3875" y2="895.1310000000001" stroke="#444" stroke-width="1" />
<line x1="89.18750000000001" y1="895.1310000000001" x2="96.3875" y2="887.931" stroke="#444" stroke-width="1" />
<line x1="92.78750000000001" y1="887.5310000000001" x2="92.78750000000001" y2="895.5310000000001" stroke="#444" stroke-width="1" />
<line x1="135.9625" y1="881.843" x2="143.1625" y2="889.043" stroke="#444" stroke-width="1" />
<line x1="135.9625" y1="889.043" x2="143.1625" y2="881.843" stroke="#444" stroke-width="1" />
<line x1="139.5625" y1="881.443" x2="139.5625" y2="889.443" stroke="#444" stroke-width="1" />
<line x1="182.7375" y1="874.233" x2="189.9375" y2="881.433" stroke="#444" stroke-width="1" />
<line x1="182.7375" y1="881.433" x2="189.9375" y2="874.233" stroke="#444" stroke-width="1" />
<line x1="186.3375" y1="873.833" x2="186.3375" y2="881.833" stroke="#444" stroke-width="1" />
<line x1="229.51250000000002" y1="834.2805" x2="236.7125" y2="841.4805" stroke="#444" stroke-width="1" />
<line x1="229.51250000000002" y1="841.4805" x2="236.7125" y2="834.2805" stroke="#444" stroke-width="1" />
<line x1="233.1125" y1="833.8805" x2="233.1125" y2="841.8805" stroke="#444" stroke-width="1" />
<line x1="233.1125" y1="833.695" x2="233.1125" y2="864.135" stroke="#000" stroke-width="1" />
<line x1="229.6125" y1="833.695" x2="236.6125" y2="833.695" stroke="#000" stroke-width="1" />
<line x1="229.6125" y1="864.135" x2="236.6125" y2="864.135" stroke="#000" stroke-width="1" />
<polyline points="92.78750000000001,892.6725 139.5625,884.682 186.3375,877.833 233.1125,847.393" stroke="#000" stroke-width="1.2" fill="none" stroke-linejoin="round" />
<ellipse cx="92.78750000000001" cy="892.6725" rx="3.2" ry="3.2" stroke="#000" stroke-width="0.9" fill="none"/>
<ellipse cx="139.5625" cy="884.682" rx="3.2" ry="3.2" stroke="#000" stroke-width="0.9" fill="none"/>
<ellipse cx="186.3375" cy="877.833" rx="3.2" ry="3.2" stroke="#000" stroke-width="0.9" fill="none"/>
<ellipse cx="233.1125" cy="847.393" rx="3.2" ry="3.2" stroke="#000" stroke-width="0.9" fill="none"/>
<line x1="139.5625" y1="864.135" x2="139.5625" y2="894.575" stroke="#444" stroke-width="1" />
<line x1="136.0625" y1="864.135" x2="143.0625" y2="864.135" stroke="#444" stroke-width="1" />
<line x1="136.0625" y1="894.575" x2="143.0625" y2="894.575" stroke="#444" stroke-width="1" />
<line x1="186.3375" y1="823.802" x2="186.3375" y2="859.569" stroke="#444" stroke-width="1" />
<line x1="182.8375" y1="823.802" x2="189.8375" y2="823.802" stroke="#444" stroke-width="1" />
<line x1="182.8375" y1="859.569" x2="189.8375" y2="859.569" stroke="#444" stroke-width="1" />
<line x1="233.1125" y1="793.7425" x2="233.1125" y2="811.626" stroke="#444" stroke-width="1" />
<line x1="229.6125" y1="793.7425" x2="236.6125" y2="793.7425" stroke="#444" stroke-width="1" />
<line x1="229.6125" y1="811.626" x2="236.6125" y2="811.626" stroke="#444" stroke-width="1" />
<polyline points="92.78750000000001,900.85325 139.5625,878.9745 186.3375,841.6855 233.1125,802.1134999999999" stroke="#000" stroke-width="1.2" fill="none" stroke-linejoin="round" />
<polygon points="92.78750000000001,897.15325 96.48750000000001,900.85325 92.78750000000001,904.55325 89.0875,900.85325" fill="#000" stroke="#000" stroke-width="0.5"/>
<polygon points="139.5625,875.2745 143.2625,878.9745 139.5625,882.6745000000001 135.8625,878.9745" fill="#000" stroke="#000" stroke-width="0.5"/>
<polygon points="186.3375,837.9855 190.0375,841.6855 186.3375,845.3855000000001 182.63750000000002,841.6855" fill="#000" stroke="#000" stroke-width="0.5"/>
<polygon points="233.1125,798.4134999999999 236.8125,802.1134999999999 233.1125,805.8135 229.41250000000002,802.1134999999999" fill="#000" stroke="#000" stroke-width="0.5"/>
<line x1="96" y1="777.5" x2="119" y2="777.5" stroke="#000" stroke-width="1.2" />
<polygon points="107.5,774.0 111.0,777.5 107.5,781.0 104.0,777.5" fill="#000" stroke="#000" stroke-width="0.5"/>
<text x="122.5" y="782.54" font-size="12" text-anchor="start" font-weight="normal" fill="#000" font-family='"Liberation Sans", sans-serif' textLength="61" lengthAdjust="spacingAndGlyphs" >Bortezomib</text>
<line x1="96" y1="788.5" x2="119" y2="788.5" stroke="#000" stroke-width="1.2" />
<ellipse cx="107.5" cy="788.5" rx="3.2" ry="3.2" stroke="#000" stroke-width="1" fill="none"/>
<text x="122.5" y="793.54" font-size="12" text-anchor="start" font-weight="normal" fill="#000" font-family='"Liberation Sans", sans-serif' textLength="24.5" lengthAdjust="spacingAndGlyphs" >B+Q</text>
<line x1="96" y1="799.5" x2="119" y2="799.5" stroke="#555" stroke-width="1.2" />
<line x1="104.35" y1="796.35" x2="110.65" y2="802.65" stroke="#555" stroke-width="1" />
<line x1="104.35" y1="802.65" x2="110.65" y2="796.35" stroke="#555" stroke-width="1" />
<line x1="107.5" y1="796.0" x2="107.5" y2="803.0" stroke="#555" stroke-width="1" />
<text x="122.5" y="804.54" font-size="12" text-anchor="start" font-weight="normal" fill="#000" font-family='"Liberation Sans", sans-serif' textLength="24.5" lengthAdjust="spacingAndGlyphs" >Q+B</text>
<line x1="306.7" y1="762.7" x2="306.7" y2="910.7" stroke="#999" stroke-width="1" />
<line x1="306.7" y1="910.7" x2="513.5" y2="910.7" stroke="#999" stroke-width="1" />
<line x1="303.09999999999997" y1="910.7" x2="306.7" y2="910.7" stroke="#999" stroke-width="1" />
<text x="296.2" y="915.0200000000001" font-size="12" text-anchor="end" font-weight="normal" fill="#000" font-family='"Liberation Sans", sans-serif' textLength="6.2" lengthAdjust="spacingAndGlyphs" >0</text>
<line x1="303.09999999999997" y1="881.1" x2="306.7" y2="881.1" stroke="#999" stroke-width="1" />
<text x="296.2" y="885.4200000000001" font-size="12" text-anchor="end" font-weight="normal" fill="#000" font-family='"Liberation Sans", sans-serif' textLength="12.4" lengthAdjust="spacingAndGlyphs" >10</text>
<line x1="303.09999999999997" y1="851.5" x2="306.7" y2="851.5" stroke="#999" stroke-width="1" />
<text x="296.2" y="855.82" font-size="12" text-anchor="end" font-weight="normal" fill="#000" font-family='"Liberation Sans", sans-serif' textLength="12.4" lengthAdjust="spacingAndGlyphs" >20</text>
<line x1="303.09999999999997" y1="821.9000000000001" x2="306.7" y2="821.9000000000001" stroke="#999" stroke-width="1" />
<text x="296.2" y="826.2200000000001" font-size="12" text-anchor="end" font-weight="normal" fill="#000" font-family='"Liberation Sans", sans-serif' textLength="12.4" lengthAdjust="spacingAndGlyphs" >30</text>
<line x1="303.09999999999997" y1="792.3000000000001" x2="306.7" y2="792.3000000000001" stroke="#999" stroke-width="1" />
<text x="296.2" y="796.6200000000001" font-size="12" text-anchor="end" font-weight="normal" fill="#000" font-family='"Liberation Sans", sans-serif' textLength="12.4" lengthAdjust="spacingAndGlyphs" >40</text>
<line x1="303.09999999999997" y1="762.7" x2="306.7" y2="762.7" stroke="#999" stroke-width="1" />
<text x="296.2" y="767.0200000000001" font-size="12" text-anchor="end" font-weight="normal" fill="#000" font-family='"Liberation Sans", sans-serif' textLength="12.4" lengthAdjust="spacingAndGlyphs" >50</text>
<line x1="306.7" y1="910.7" x2="306.7" y2="913.7" stroke="#999" stroke-width="1" />
<line x1="358.4" y1="910.7" x2="358.4" y2="913.7" stroke="#999" stroke-width="1" />
<line x1="410.1" y1="910.7" x2="410.1" y2="913.7" stroke="#999" stroke-width="1" />
<line x1="461.8" y1="910.7" x2="461.8" y2="913.7" stroke="#999" stroke-width="1" />
<line x1="513.5" y1="910.7" x2="513.5" y2="913.7" stroke="#999" stroke-width="1" />
<text x="332.55" y="936.6" font-size="11.5" text-anchor="middle" font-weight="normal" fill="#000" font-family='"Liberation Sans", sans-serif' textLength="6.1" lengthAdjust="spacingAndGlyphs" >0</text>
<text x="384.25" y="936.6" font-size="11.5" text-anchor="middle" font-weight="normal" fill="#000" font-family='"Liberation Sans", sans-serif' textLength="12.2" lengthAdjust="spacingAndGlyphs" >10</text>
<text x="435.95" y="936.6" font-size="11.5" text-anchor="middle" font-weight="normal" fill="#000" font-family='"Liberation Sans", sans-serif' textLength="12.2" lengthAdjust="spacingAndGlyphs" >20</text>
<text x="487.65" y="936.6" font-size="11.5" text-anchor="middle" font-weight="normal" fill="#000" font-family='"Liberation Sans", sans-serif' textLength="12.2" lengthAdjust="spacingAndGlyphs" >40</text>
<text x="410.7" y="953" font-size="12" text-anchor="middle" font-weight="normal" fill="#000" font-family='"Liberation Sans", sans-serif' textLength="89.5" lengthAdjust="spacingAndGlyphs" >Bortezomib (nM)</text>
<text x="276" y="839.75" font-size="13.5" text-anchor="middle" font-weight="normal" fill="#000" font-family='"Liberation Sans", sans-serif' textLength="89.5" lengthAdjust="spacingAndGlyphs" transform="rotate(-90 276 839.75)" >% of apoptosis</text>
<text x="332" y="756" font-size="15.5" text-anchor="start" font-weight="normal" fill="#000" font-family='"Liberation Sans", sans-serif' textLength="50.5" lengthAdjust="spacingAndGlyphs" >DoHH2</text>
<line x1="332.55" y1="889.98" x2="332.55" y2="906.26" stroke="#000" stroke-width="1" />
<line x1="329.05" y1="889.98" x2="336.05" y2="889.98" stroke="#000" stroke-width="1" />
<line x1="329.05" y1="906.26" x2="336.05" y2="906.26" stroke="#000" stroke-width="1" />
<line x1="435.95" y1="887.0200000000001" x2="435.95" y2="895.9000000000001" stroke="#000" stroke-width="1" />
<line x1="432.45" y1="887.0200000000001" x2="439.45" y2="887.0200000000001" stroke="#000" stroke-width="1" />
<line x1="432.45" y1="895.9000000000001" x2="439.45" y2="895.9000000000001" stroke="#000" stroke-width="1" />
<line x1="487.65" y1="850.0200000000001" x2="487.65" y2="861.86" stroke="#000" stroke-width="1" />
<line x1="484.15" y1="850.0200000000001" x2="491.15" y2="850.0200000000001" stroke="#000" stroke-width="1" />
<line x1="484.15" y1="861.86" x2="491.15" y2="861.86" stroke="#000" stroke-width="1" />
<polyline points="332.55,898.268 384.25,894.124 435.95,892.052 487.65,855.94" stroke="#000" stroke-width="1" fill="none" stroke-linejoin="round" />
<line x1="328.95" y1="894.668" x2="336.15000000000003" y2="901.868" stroke="#000" stroke-width="1" />
<line x1="328.95" y1="901.868" x2="336.15000000000003" y2="894.668" stroke="#000" stroke-width="1" />
<line x1="332.55" y1="894.268" x2="332.55" y2="902.268" stroke="#000" stroke-width="1" />
<line x1="380.65" y1="890.524" x2="387.85" y2="897.724" stroke="#000" stroke-width="1" />
<line x1="380.65" y1="897.724" x2="387.85" y2="890.524" stroke="#000" stroke-width="1" />
<line x1="384.25" y1="890.124" x2="384.25" y2="898.124" stroke="#000" stroke-width="1" />
<line x1="432.34999999999997" y1="888.452" x2="439.55" y2="895.652" stroke="#000" stroke-width="1" />
<line x1="432.34999999999997" y1="895.652" x2="439.55" y2="888.452" stroke="#000" stroke-width="1" />
<line x1="435.95" y1="888.052" x2="435.95" y2="896.052" stroke="#000" stroke-width="1" />
<line x1="484.04999999999995" y1="852.34" x2="491.25" y2="859.5400000000001" stroke="#000" stroke-width="1" />
<line x1="484.04999999999995" y1="859.5400000000001" x2="491.25" y2="852.34" stroke="#000" stroke-width="1" />
<line x1="487.65" y1="851.94" x2="487.65" y2="859.94" stroke="#000" stroke-width="1" />
<line x1="384.25" y1="883.4680000000001" x2="384.25" y2="888.2040000000001" stroke="#000" stroke-width="1" />
<line x1="380.75" y1="883.4680000000001" x2="387.75" y2="883.4680000000001" stroke="#000" stroke-width="1" />
<line x1="380.75" y1="888.2040000000001" x2="387.75" y2="888.2040000000001" stroke="#000" stroke-width="1" />
<line x1="435.95" y1="879.62" x2="435.95" y2="884.356" stroke="#000" stroke-width="1" />
<line x1="432.45" y1="879.62" x2="439.45" y2="879.62" stroke="#000" stroke-width="1" />
<line x1="432.45" y1="884.356" x2="439.45" y2="884.356" stroke="#000" stroke-width="1" />
<line x1="487.65" y1="825.452" x2="487.65" y2="829.004" stroke="#000" stroke-width="1" />
<line x1="484.15" y1="825.452" x2="491.15" y2="825.452" stroke="#000" stroke-width="1" />
<line x1="484.15" y1="829.004" x2="491.15" y2="829.004" stroke="#000" stroke-width="1" />
<polyline points="332.55,898.268 384.25,885.836 435.95,881.988 487.65,827.2280000000001" stroke="#000" stroke-width="1" fill="none" stroke-linejoin="round" />
<ellipse cx="332.55" cy="898.268" rx="4.3" ry="4.3" stroke="#000" stroke-width="1.2" fill="none"/>
<ellipse cx="384.25" cy="885.836" rx="4.3" ry="4.3" stroke="#000" stroke-width="1.2" fill="none"/>
<ellipse cx="435.95" cy="881.988" rx="4.3" ry="4.3" stroke="#000" stroke-width="1.2" fill="none"/>
<ellipse cx="487.65" cy="827.2280000000001" rx="4.3" ry="4.3" stroke="#000" stroke-width="1.2" fill="none"/>
<line x1="384.25" y1="848.5400000000001" x2="384.25" y2="869.26" stroke="#000" stroke-width="1" />
<line x1="380.75" y1="848.5400000000001" x2="387.75" y2="848.5400000000001" stroke="#000" stroke-width="1" />
<line x1="380.75" y1="869.26" x2="387.75" y2="869.26" stroke="#000" stroke-width="1" />
<line x1="435.95" y1="792.892" x2="435.95" y2="836.7" stroke="#000" stroke-width="1" />
<line x1="432.45" y1="792.892" x2="439.45" y2="792.892" stroke="#000" stroke-width="1" />
<line x1="432.45" y1="836.7" x2="439.45" y2="836.7" stroke="#000" stroke-width="1" />
<line x1="487.65" y1="777.5" x2="487.65" y2="801.1800000000001" stroke="#000" stroke-width="1" />
<line x1="484.15" y1="777.5" x2="491.15" y2="777.5" stroke="#000" stroke-width="1" />
<line x1="484.15" y1="801.1800000000001" x2="491.15" y2="801.1800000000001" stroke="#000" stroke-width="1" />
<polyline points="332.55,898.268 384.25,858.9000000000001 435.95,814.5 487.65,788.452" stroke="#000" stroke-width="1" fill="none" stroke-linejoin="round" />
<polygon points="332.55,894.568 336.25,898.268 332.55,901.9680000000001 328.85,898.268" fill="#000" stroke="#000" stroke-width="0.5"/>
<polygon points="384.25,855.2 387.95,858.9000000000001 384.25,862.6000000000001 380.55,858.9000000000001" fill="#000" stroke="#000" stroke-width="0.5"/>
<polygon points="435.95,810.8 439.65,814.5 435.95,818.2 432.25,814.5" fill="#000" stroke="#000" stroke-width="0.5"/>
<polygon points="487.65,784.752 491.34999999999997,788.452 487.65,792.152 483.95,788.452" fill="#000" stroke="#000" stroke-width="0.5"/>
<line x1="322" y1="774.25" x2="350.5" y2="774.25" stroke="#000" stroke-width="1" />
<polygon points="336.25,770.75 339.75,774.25 336.25,777.75 332.75,774.25" fill="#000" stroke="#000" stroke-width="0.5"/>
<text x="354.5" y="779.5" font-size="12.5" text-anchor="start" font-weight="normal" fill="#000" font-family='"Liberation Sans", sans-serif' textLength="60.5" lengthAdjust="spacingAndGlyphs" >Bortezomib</text>
<line x1="322" y1="790" x2="350.5" y2="790" stroke="#000" stroke-width="1" />
<ellipse cx="336.25" cy="790" rx="4" ry="4" stroke="#000" stroke-width="1" fill="none"/>
<text x="354.5" y="795.25" font-size="12.5" text-anchor="start" font-weight="normal" fill="#000" font-family='"Liberation Sans", sans-serif' textLength="25.5" lengthAdjust="spacingAndGlyphs" >B+Q</text>
<line x1="322" y1="805" x2="350.5" y2="805" stroke="#000" stroke-width="1" />
<line x1="333.1" y1="801.85" x2="339.4" y2="808.15" stroke="#000" stroke-width="1" />
<line x1="333.1" y1="808.15" x2="339.4" y2="801.85" stroke="#000" stroke-width="1" />
<line x1="336.25" y1="801.5" x2="336.25" y2="808.5" stroke="#000" stroke-width="1" />
<text x="354.5" y="810.25" font-size="12.5" text-anchor="start" font-weight="normal" fill="#000" font-family='"Liberation Sans", sans-serif' textLength="25.5" lengthAdjust="spacingAndGlyphs" >Q+B</text>
<line x1="61.25" y1="998" x2="61.25" y2="1155" stroke="#999" stroke-width="1" />
<line x1="61.25" y1="1155" x2="257" y2="1155" stroke="#999" stroke-width="1" />
<line x1="58.25" y1="1155.0" x2="61.25" y2="1155.0" stroke="#999" stroke-width="1" />
<text x="53.25" y="1159.32" font-size="12" text-anchor="end" font-weight="normal" fill="#000" font-family='"Liberation Sans", sans-serif' textLength="6.0" lengthAdjust="spacingAndGlyphs" >0</text>
<line x1="58.25" y1="1115.75" x2="61.25" y2="1115.75" stroke="#999" stroke-width="1" />
<text x="53.25" y="1120.07" font-size="12" text-anchor="end" font-weight="normal" fill="#000" font-family='"Liberation Sans", sans-serif' textLength="6.0" lengthAdjust="spacingAndGlyphs" >5</text>
<line x1="58.25" y1="1076.5" x2="61.25" y2="1076.5" stroke="#999" stroke-width="1" />
<text x="53.25" y="1080.82" font-size="12" text-anchor="end" font-weight="normal" fill="#000" font-family='"Liberation Sans", sans-serif' textLength="12.0" lengthAdjust="spacingAndGlyphs" >10</text>
<line x1="58.25" y1="1037.25" x2="61.25" y2="1037.25" stroke="#999" stroke-width="1" />
<text x="53.25" y="1041.57" font-size="12" text-anchor="end" font-weight="normal" fill="#000" font-family='"Liberation Sans", sans-serif' textLength="12.0" lengthAdjust="spacingAndGlyphs" >15</text>
<line x1="58.25" y1="998.0" x2="61.25" y2="998.0" stroke="#999" stroke-width="1" />
<text x="53.25" y="1002.32" font-size="12" text-anchor="end" font-weight="normal" fill="#000" font-family='"Liberation Sans", sans-serif' textLength="12.0" lengthAdjust="spacingAndGlyphs" >20</text>
<line x1="61.25" y1="1155" x2="61.25" y2="1158" stroke="#999" stroke-width="1" />
<line x1="111.35" y1="1155" x2="111.35" y2="1158" stroke="#999" stroke-width="1" />
<line x1="161.45" y1="1155" x2="161.45" y2="1158" stroke="#999" stroke-width="1" />
<line x1="211.55" y1="1155" x2="211.55" y2="1158" stroke="#999" stroke-width="1" />
<text x="86.3" y="1179" font-size="11" text-anchor="middle" font-weight="normal" fill="#000" font-family='"Liberation Sans", sans-serif' textLength="6.0" lengthAdjust="spacingAndGlyphs" >0</text>
<text x="136.4" y="1179" font-size="11" text-anchor="middle" font-weight="normal" fill="#000" font-family='"Liberation Sans", sans-serif' textLength="12.0" lengthAdjust="spacingAndGlyphs" >10</text>
<text x="186.5" y="1179" font-size="11" text-anchor="middle" font-weight="normal" fill="#000" font-family='"Liberation Sans", sans-serif' textLength="12.0" lengthAdjust="spacingAndGlyphs" >20</text>
<text x="236.6" y="1179" font-size="11" text-anchor="middle" font-weight="normal" fill="#000" font-family='"Liberation Sans", sans-serif' textLength="12.0" lengthAdjust="spacingAndGlyphs" >40</text>
<text x="162.2" y="1195" font-size="11" text-anchor="middle" font-weight="normal" fill="#000" font-family='"Liberation Sans", sans-serif' textLength="82" lengthAdjust="spacingAndGlyphs" >Bortezomib (nM)</text>
<text x="37.5" y="1078.75" font-size="13" text-anchor="middle" font-weight="normal" fill="#000" font-family='"Liberation Sans", sans-serif' textLength="84" lengthAdjust="spacingAndGlyphs" transform="rotate(-90 37.5 1078.75)" >% of apoptosis</text>
<text x="80" y="990" font-size="16" text-anchor="start" font-weight="normal" fill="#000" font-family='"Liberation Sans", sans-serif' textLength="37" lengthAdjust="spacingAndGlyphs" >U266</text>
<line x1="86.3" y1="1111.04" x2="86.3" y2="1118.89" stroke="#000" stroke-width="1" />
<line x1="82.8" y1="1111.04" x2="89.8" y2="1111.04" stroke="#000" stroke-width="1" />
<line x1="82.8" y1="1118.89" x2="89.8" y2="1118.89" stroke="#000" stroke-width="1" />
<line x1="136.4" y1="1092.985" x2="136.4" y2="1109.47" stroke="#000" stroke-width="1" />
<line x1="132.9" y1="1092.985" x2="139.9" y2="1092.985" stroke="#000" stroke-width="1" />
<line x1="132.9" y1="1109.47" x2="139.9" y2="1109.47" stroke="#000" stroke-width="1" />
<line x1="186.5" y1="1081.995" x2="186.5" y2="1087.49" stroke="#000" stroke-width="1" />
<line x1="183.0" y1="1081.995" x2="190.0" y2="1081.995" stroke="#000" stroke-width="1" />
<line x1="183.0" y1="1087.49" x2="190.0" y2="1087.49" stroke="#000" stroke-width="1" />
<line x1="236.6" y1="1032.54" x2="236.6" y2="1057.66" stroke="#000" stroke-width="1" />
<line x1="233.1" y1="1032.54" x2="240.1" y2="1032.54" stroke="#000" stroke-width="1" />
<line x1="233.1" y1="1057.66" x2="240.1" y2="1057.66" stroke="#000" stroke-width="1" />
<polyline points="86.3,1114.965 136.4,1101.62 186.5,1085.135 236.6,1045.1" stroke="#000" stroke-width="1.6" fill="none" stroke-linejoin="round" />
<ellipse cx="86.3" cy="1114.965" rx="3.5" ry="3.5" stroke="#000" stroke-width="1" fill="none"/>
<ellipse cx="136.4" cy="1101.62" rx="3.5" ry="3.5" stroke="#000" stroke-width="1" fill="none"/>
<ellipse cx="186.5" cy="1085.135" rx="3.5" ry="3.5" stroke="#000" stroke-width="1" fill="none"/>
<ellipse cx="236.6" cy="1045.1" rx="3.5" ry="3.5" stroke="#000" stroke-width="1" fill="none"/>
<line x1="136.4" y1="1068.65" x2="136.4" y2="1084.35" stroke="#000" stroke-width="1" />
<line x1="132.9" y1="1068.65" x2="139.9" y2="1068.65" stroke="#000" stroke-width="1" />
<line x1="132.9" y1="1084.35" x2="139.9" y2="1084.35" stroke="#000" stroke-width="1" />
<line x1="186.5" y1="1047.455" x2="186.5" y2="1072.575" stroke="#000" stroke-width="1" />
<line x1="183.0" y1="1047.455" x2="190.0" y2="1047.455" stroke="#000" stroke-width="1" />
<line x1="183.0" y1="1072.575" x2="190.0" y2="1072.575" stroke="#000" stroke-width="1" />
<polyline points="86.3,1114.965 136.4,1075.715 186.5,1060.015 236.6,1038.035" stroke="#000" stroke-width="1.3" fill="none" stroke-linejoin="round" />
<line x1="82.7" y1="1111.365" x2="89.89999999999999" y2="1118.5649999999998" stroke="#444" stroke-width="1" />
<line x1="82.7" y1="1118.5649999999998" x2="89.89999999999999" y2="1111.365" stroke="#444" stroke-width="1" />
<line x1="86.3" y1="1110.965" x2="86.3" y2="1118.965" stroke="#444" stroke-width="1" />
<line x1="132.8" y1="1072.115" x2="140.0" y2="1079.3149999999998" stroke="#444" stroke-width="1" />
<line x1="132.8" y1="1079.3149999999998" x2="140.0" y2="1072.115" stroke="#444" stroke-width="1" />
<line x1="136.4" y1="1071.715" x2="136.4" y2="1079.715" stroke="#444" stroke-width="1" />
<line x1="182.9" y1="1056.4150000000002" x2="190.1" y2="1063.615" stroke="#444" stroke-width="1" />
<line x1="182.9" y1="1063.615" x2="190.1" y2="1056.4150000000002" stroke="#444" stroke-width="1" />
<line x1="186.5" y1="1056.015" x2="186.5" y2="1064.015" stroke="#444" stroke-width="1" />
<line x1="233.0" y1="1034.4350000000002" x2="240.2" y2="1041.635" stroke="#444" stroke-width="1" />
<line x1="233.0" y1="1041.635" x2="240.2" y2="1034.4350000000002" stroke="#444" stroke-width="1" />
<line x1="236.6" y1="1034.035" x2="236.6" y2="1042.035" stroke="#444" stroke-width="1" />
<line x1="136.4" y1="1050.595" x2="136.4" y2="1072.575" stroke="#000" stroke-width="1" />
<line x1="132.9" y1="1050.595" x2="139.9" y2="1050.595" stroke="#000" stroke-width="1" />
<line x1="132.9" y1="1072.575" x2="139.9" y2="1072.575" stroke="#000" stroke-width="1" />
<line x1="186.5" y1="1022.335" x2="186.5" y2="1036.465" stroke="#000" stroke-width="1" />
<line x1="183.0" y1="1022.335" x2="190.0" y2="1022.335" stroke="#000" stroke-width="1" />
<line x1="183.0" y1="1036.465" x2="190.0" y2="1036.465" stroke="#000" stroke-width="1" />
<line x1="236.6" y1="1008.99" x2="236.6" y2="1023.12" stroke="#000" stroke-width="1" />
<line x1="233.1" y1="1008.99" x2="240.1" y2="1008.99" stroke="#000" stroke-width="1" />
<line x1="233.1" y1="1023.12" x2="240.1" y2="1023.12" stroke="#000" stroke-width="1" />
<polyline points="86.3,1118.89 136.4,1061.585 186.5,1029.4 236.6,1016.0550000000001" stroke="#000" stroke-width="1.6" fill="none" stroke-linejoin="round" />
<polygon points="86.3,1114.89 90.3,1118.89 86.3,1122.89 82.3,1118.89" fill="#000" stroke="#000" stroke-width="0.5"/>
<polygon points="136.4,1057.585 140.4,1061.585 136.4,1065.585 132.4,1061.585" fill="#000" stroke="#000" stroke-width="0.5"/>
<polygon points="186.5,1025.4 190.5,1029.4 186.5,1033.4 182.5,1029.4" fill="#000" stroke="#000" stroke-width="0.5"/>
<polygon points="236.6,1012.0550000000001 240.6,1016.0550000000001 236.6,1020.0550000000001 232.6,1016.0550000000001" fill="#000" stroke="#000" stroke-width="0.5"/>
<line x1="79.5" y1="1009.5" x2="103.75" y2="1009.5" stroke="#000" stroke-width="2" />
<polygon points="91.625,1005.5 95.625,1009.5 91.625,1013.5 87.625,1009.5" fill="#000" stroke="#000" stroke-width="0.5"/>
<text x="107.5" y="1014.96" font-size="13" text-anchor="start" font-weight="normal" fill="#000" font-family='"Liberation Sans", sans-serif' textLength="55" lengthAdjust="spacingAndGlyphs" >Bortezomib</text>
<line x1="79.5" y1="1025" x2="103.75" y2="1025" stroke="#000" stroke-width="2" />
<ellipse cx="91.625" cy="1025" rx="3.5" ry="3.5" stroke="#000" stroke-width="1" fill="none"/>
<text x="107.5" y="1030.46" font-size="13" text-anchor="start" font-weight="normal" fill="#000" font-family='"Liberation Sans", sans-serif' textLength="25" lengthAdjust="spacingAndGlyphs" >B+Q</text>
<line x1="79.5" y1="1040.5" x2="103.75" y2="1040.5" stroke="#444" stroke-width="1.3" />
<line x1="88.025" y1="1036.9" x2="95.225" y2="1044.1" stroke="#444" stroke-width="1" />
<line x1="88.025" y1="1044.1" x2="95.225" y2="1036.9" stroke="#444" stroke-width="1" />
<line x1="91.625" y1="1036.5" x2="91.625" y2="1044.5" stroke="#444" stroke-width="1" />
<text x="107.5" y="1045.96" font-size="13" text-anchor="start" font-weight="normal" fill="#000" font-family='"Liberation Sans", sans-serif' textLength="25" lengthAdjust="spacingAndGlyphs" >Q+B</text>
<line x1="308.8" y1="999.2" x2="308.8" y2="1154.5" stroke="#222" stroke-width="1.3" />
<line x1="308.8" y1="1154.5" x2="519.25" y2="1154.5" stroke="#222" stroke-width="1.3" />
<line x1="305.40000000000003" y1="1154.5" x2="308.8" y2="1154.5" stroke="#222" stroke-width="1.3" />
<text x="300.2" y="1158.46" font-size="11" text-anchor="end" font-weight="normal" fill="#000" font-family='"Liberation Sans", sans-serif' textLength="6.3" lengthAdjust="spacingAndGlyphs" >0</text>
<line x1="305.40000000000003" y1="1115.675" x2="308.8" y2="1115.675" stroke="#222" stroke-width="1.3" />
<text x="300.2" y="1119.635" font-size="11" text-anchor="end" font-weight="normal" fill="#000" font-family='"Liberation Sans", sans-serif' textLength="12.6" lengthAdjust="spacingAndGlyphs" >10</text>
<line x1="305.40000000000003" y1="1076.85" x2="308.8" y2="1076.85" stroke="#222" stroke-width="1.3" />
<text x="300.2" y="1080.81" font-size="11" text-anchor="end" font-weight="normal" fill="#000" font-family='"Liberation Sans", sans-serif' textLength="12.6" lengthAdjust="spacingAndGlyphs" >20</text>
<line x1="305.40000000000003" y1="1038.025" x2="308.8" y2="1038.025" stroke="#222" stroke-width="1.3" />
<text x="300.2" y="1041.9850000000001" font-size="11" text-anchor="end" font-weight="normal" fill="#000" font-family='"Liberation Sans", sans-serif' textLength="12.6" lengthAdjust="spacingAndGlyphs" >30</text>
<line x1="305.40000000000003" y1="999.2" x2="308.8" y2="999.2" stroke="#222" stroke-width="1.3" />
<text x="300.2" y="1003.1600000000001" font-size="11" text-anchor="end" font-weight="normal" fill="#000" font-family='"Liberation Sans", sans-serif' textLength="12.6" lengthAdjust="spacingAndGlyphs" >40</text>
<line x1="308.8" y1="1154.5" x2="308.8" y2="1157.5" stroke="#222" stroke-width="1.3" />
<line x1="361.4125" y1="1154.5" x2="361.4125" y2="1157.5" stroke="#222" stroke-width="1.3" />
<line x1="414.025" y1="1154.5" x2="414.025" y2="1157.5" stroke="#222" stroke-width="1.3" />
<line x1="466.6375" y1="1154.5" x2="466.6375" y2="1157.5" stroke="#222" stroke-width="1.3" />
<line x1="519.25" y1="1154.5" x2="519.25" y2="1157.5" stroke="#222" stroke-width="1.3" />
<text x="335.10625" y="1174.5" font-size="10.5" text-anchor="middle" font-weight="normal" fill="#000" font-family='"Liberation Sans", sans-serif' textLength="6.4" lengthAdjust="spacingAndGlyphs" >0</text>
<text x="387.71875" y="1174.5" font-size="10.5" text-anchor="middle" font-weight="normal" fill="#000" font-family='"Liberation Sans", sans-serif' textLength="12.8" lengthAdjust="spacingAndGlyphs" >10</text>
<text x="440.33125" y="1174.5" font-size="10.5" text-anchor="middle" font-weight="normal" fill="#000" font-family='"Liberation Sans", sans-serif' textLength="12.8" lengthAdjust="spacingAndGlyphs" >20</text>
<text x="492.94375" y="1174.5" font-size="10.5" text-anchor="middle" font-weight="normal" fill="#000" font-family='"Liberation Sans", sans-serif' textLength="12.8" lengthAdjust="spacingAndGlyphs" >40</text>
<text x="414.9" y="1195" font-size="14" text-anchor="middle" font-weight="normal" fill="#000" font-family='"Liberation Sans", sans-serif' textLength="105.8" lengthAdjust="spacingAndGlyphs" >Bortezomib (nM)</text>
<text x="277" y="1079.3" font-size="13" text-anchor="middle" font-weight="normal" fill="#000" font-family='"Liberation Sans", sans-serif' textLength="84.8" lengthAdjust="spacingAndGlyphs" transform="rotate(-90 277 1079.3)" >% of apoptosis</text>
<text x="332" y="990" font-size="15.5" text-anchor="start" font-weight="normal" fill="#000" font-family='"Liberation Sans", sans-serif' textLength="78" lengthAdjust="spacingAndGlyphs" >RPMI-8226</text>
<line x1="335.10625" y1="1090.43875" x2="335.10625" y2="1107.91" stroke="#000" stroke-width="1" />
<line x1="331.60625" y1="1090.43875" x2="338.60625" y2="1090.43875" stroke="#000" stroke-width="1" />
<line x1="331.60625" y1="1107.91" x2="338.60625" y2="1107.91" stroke="#000" stroke-width="1" />
<line x1="440.33125" y1="1084.615" x2="440.33125" y2="1096.2625" stroke="#000" stroke-width="1" />
<line x1="436.83125" y1="1084.615" x2="443.83125" y2="1084.615" stroke="#000" stroke-width="1" />
<line x1="436.83125" y1="1096.2625" x2="443.83125" y2="1096.2625" stroke="#000" stroke-width="1" />
<line x1="492.94375" y1="1049.6725000000001" x2="492.94375" y2="1059.37875" stroke="#000" stroke-width="1" />
<line x1="489.44375" y1="1049.6725000000001" x2="496.44375" y2="1049.6725000000001" stroke="#000" stroke-width="1" />
<line x1="489.44375" y1="1059.37875" x2="496.44375" y2="1059.37875" stroke="#000" stroke-width="1" />
<polyline points="335.10625,1098.98025 387.71875,1086.55625 440.33125,1090.43875 492.94375,1054.3315" stroke="#000" stroke-width="1.2" fill="none" stroke-linejoin="round" />
<line x1="331.50624999999997" y1="1095.3802500000002" x2="338.70625" y2="1102.58025" stroke="#333" stroke-width="1" />
<line x1="331.50624999999997" y1="1102.58025" x2="338.70625" y2="1095.3802500000002" stroke="#333" stroke-width="1" />
<line x1="335.10625" y1="1094.98025" x2="335.10625" y2="1102.98025" stroke="#333" stroke-width="1" />
<line x1="384.11875" y1="1082.9562500000002" x2="391.31875" y2="1090.15625" stroke="#333" stroke-width="1" />
<line x1="384.11875" y1="1090.15625" x2="391.31875" y2="1082.9562500000002" stroke="#333" stroke-width="1" />
<line x1="387.71875" y1="1082.55625" x2="387.71875" y2="1090.55625" stroke="#333" stroke-width="1" />
<line x1="436.73125" y1="1086.8387500000001" x2="443.93125000000003" y2="1094.03875" stroke="#333" stroke-width="1" />
<line x1="436.73125" y1="1094.03875" x2="443.93125000000003" y2="1086.8387500000001" stroke="#333" stroke-width="1" />
<line x1="440.33125" y1="1086.43875" x2="440.33125" y2="1094.43875" stroke="#333" stroke-width="1" />
<line x1="489.34375" y1="1050.7315" x2="496.54375000000005" y2="1057.9315" stroke="#333" stroke-width="1" />
<line x1="489.34375" y1="1057.9315" x2="496.54375000000005" y2="1050.7315" stroke="#333" stroke-width="1" />
<line x1="492.94375" y1="1050.3315" x2="492.94375" y2="1058.3315" stroke="#333" stroke-width="1" />
<line x1="335.10625" y1="1100.145" x2="335.10625" y2="1111.7925" stroke="#000" stroke-width="1" />
<line x1="331.60625" y1="1100.145" x2="338.60625" y2="1100.145" stroke="#000" stroke-width="1" />
<line x1="331.60625" y1="1111.7925" x2="338.60625" y2="1111.7925" stroke="#000" stroke-width="1" />
<line x1="387.71875" y1="1100.145" x2="387.71875" y2="1111.7925" stroke="#000" stroke-width="1" />
<line x1="384.21875" y1="1100.145" x2="391.21875" y2="1100.145" stroke="#000" stroke-width="1" />
<line x1="384.21875" y1="1111.7925" x2="391.21875" y2="1111.7925" stroke="#000" stroke-width="1" />
<line x1="440.33125" y1="1113.73375" x2="440.33125" y2="1123.44" stroke="#000" stroke-width="1" />
<line x1="436.83125" y1="1113.73375" x2="443.83125" y2="1113.73375" stroke="#000" stroke-width="1" />
<line x1="436.83125" y1="1123.44" x2="443.83125" y2="1123.44" stroke="#000" stroke-width="1" />
<line x1="492.94375" y1="1094.32125" x2="492.94375" y2="1104.0275" stroke="#000" stroke-width="1" />
<line x1="489.44375" y1="1094.32125" x2="496.44375" y2="1094.32125" stroke="#000" stroke-width="1" />
<line x1="489.44375" y1="1104.0275" x2="496.44375" y2="1104.0275" stroke="#000" stroke-width="1" />
<polyline points="335.10625,1105.5805 387.71875,1105.5805 440.33125,1118.781 492.94375,1098.98025" stroke="#000" stroke-width="1.2" fill="none" stroke-linejoin="round" />
<ellipse cx="335.10625" cy="1105.5805" rx="4" ry="4" stroke="#000" stroke-width="1" fill="#fff"/>
<ellipse cx="387.71875" cy="1105.5805" rx="4" ry="4" stroke="#000" stroke-width="1" fill="#fff"/>
<ellipse cx="440.33125" cy="1118.781" rx="4" ry="4" stroke="#000" stroke-width="1" fill="#fff"/>
<ellipse cx="492.94375" cy="1098.98025" rx="4" ry="4" stroke="#000" stroke-width="1" fill="#fff"/>
<line x1="335.10625" y1="1091.21525" x2="335.10625" y2="1131.9815" stroke="#000" stroke-width="1" />
<line x1="331.60625" y1="1091.21525" x2="338.60625" y2="1091.21525" stroke="#000" stroke-width="1" />
<line x1="331.60625" y1="1131.9815" x2="338.60625" y2="1131.9815" stroke="#000" stroke-width="1" />
<line x1="387.71875" y1="1037.2485000000001" x2="387.71875" y2="1074.90875" stroke="#000" stroke-width="1" />
<line x1="384.21875" y1="1037.2485000000001" x2="391.21875" y2="1037.2485000000001" stroke="#000" stroke-width="1" />
<line x1="384.21875" y1="1074.90875" x2="391.21875" y2="1074.90875" stroke="#000" stroke-width="1" />
<line x1="440.33125" y1="1045.79" x2="440.33125" y2="1061.32" stroke="#000" stroke-width="1" />
<line x1="436.83125" y1="1045.79" x2="443.83125" y2="1045.79" stroke="#000" stroke-width="1" />
<line x1="436.83125" y1="1061.32" x2="443.83125" y2="1061.32" stroke="#000" stroke-width="1" />
<line x1="492.94375" y1="1034.1425" x2="492.94375" y2="1057.4375" stroke="#000" stroke-width="1" />
<line x1="489.44375" y1="1034.1425" x2="496.44375" y2="1034.1425" stroke="#000" stroke-width="1" />
<line x1="489.44375" y1="1057.4375" x2="496.44375" y2="1057.4375" stroke="#000" stroke-width="1" />
<polyline points="335.10625,1114.8985 387.71875,1055.4962500000001 440.33125,1053.94325 492.94375,1046.95475" stroke="#000" stroke-width="1.4" fill="none" stroke-linejoin="round" />
<polygon points="335.10625,1110.8985 339.10625,1114.8985 335.10625,1118.8985 331.10625,1114.8985" fill="#000" stroke="#000" stroke-width="0.5"/>
<polygon points="387.71875,1051.4962500000001 391.71875,1055.4962500000001 387.71875,1059.4962500000001 383.71875,1055.4962500000001" fill="#000" stroke="#000" stroke-width="0.5"/>
<polygon points="440.33125,1049.94325 444.33125,1053.94325 440.33125,1057.94325 436.33125,1053.94325" fill="#000" stroke="#000" stroke-width="0.5"/>
<polygon points="492.94375,1042.95475 496.94375,1046.95475 492.94375,1050.95475 488.94375,1046.95475" fill="#000" stroke="#000" stroke-width="0.5"/>
<line x1="320" y1="1015" x2="346.25" y2="1015" stroke="#000" stroke-width="1.3" />
<polygon points="333.125,1011 337.125,1015 333.125,1019 329.125,1015" fill="#000" stroke="#000" stroke-width="0.5"/>
<text x="349.5" y="1019.83" font-size="11.5" text-anchor="start" font-weight="normal" fill="#000" font-family='"Liberation Sans", sans-serif' textLength="53" lengthAdjust="spacingAndGlyphs" >Bortezomib</text>
<line x1="320" y1="1028" x2="346.25" y2="1028" stroke="#000" stroke-width="1.3" />
<ellipse cx="333.125" cy="1028" rx="4" ry="4" stroke="#000" stroke-width="1" fill="#fff"/>
<text x="349.5" y="1032.83" font-size="11.5" text-anchor="start" font-weight="normal" fill="#000" font-family='"Liberation Sans", sans-serif' textLength="22.5" lengthAdjust="spacingAndGlyphs" >B+Q</text>
<line x1="320" y1="1041.25" x2="346.25" y2="1041.25" stroke="#333" stroke-width="1.3" />
<line x1="329.525" y1="1037.65" x2="336.725" y2="1044.85" stroke="#333" stroke-width="1" />
<line x1="329.525" y1="1044.85" x2="336.725" y2="1037.65" stroke="#333" stroke-width="1" />
<line x1="333.125" y1="1037.25" x2="333.125" y2="1045.25" stroke="#333" stroke-width="1" />
<text x="349.5" y="1046.08" font-size="11.5" text-anchor="start" font-weight="normal" fill="#000" font-family='"Liberation Sans", sans-serif' textLength="22.5" lengthAdjust="spacingAndGlyphs" >Q+B</text>
</svg></body></html>
